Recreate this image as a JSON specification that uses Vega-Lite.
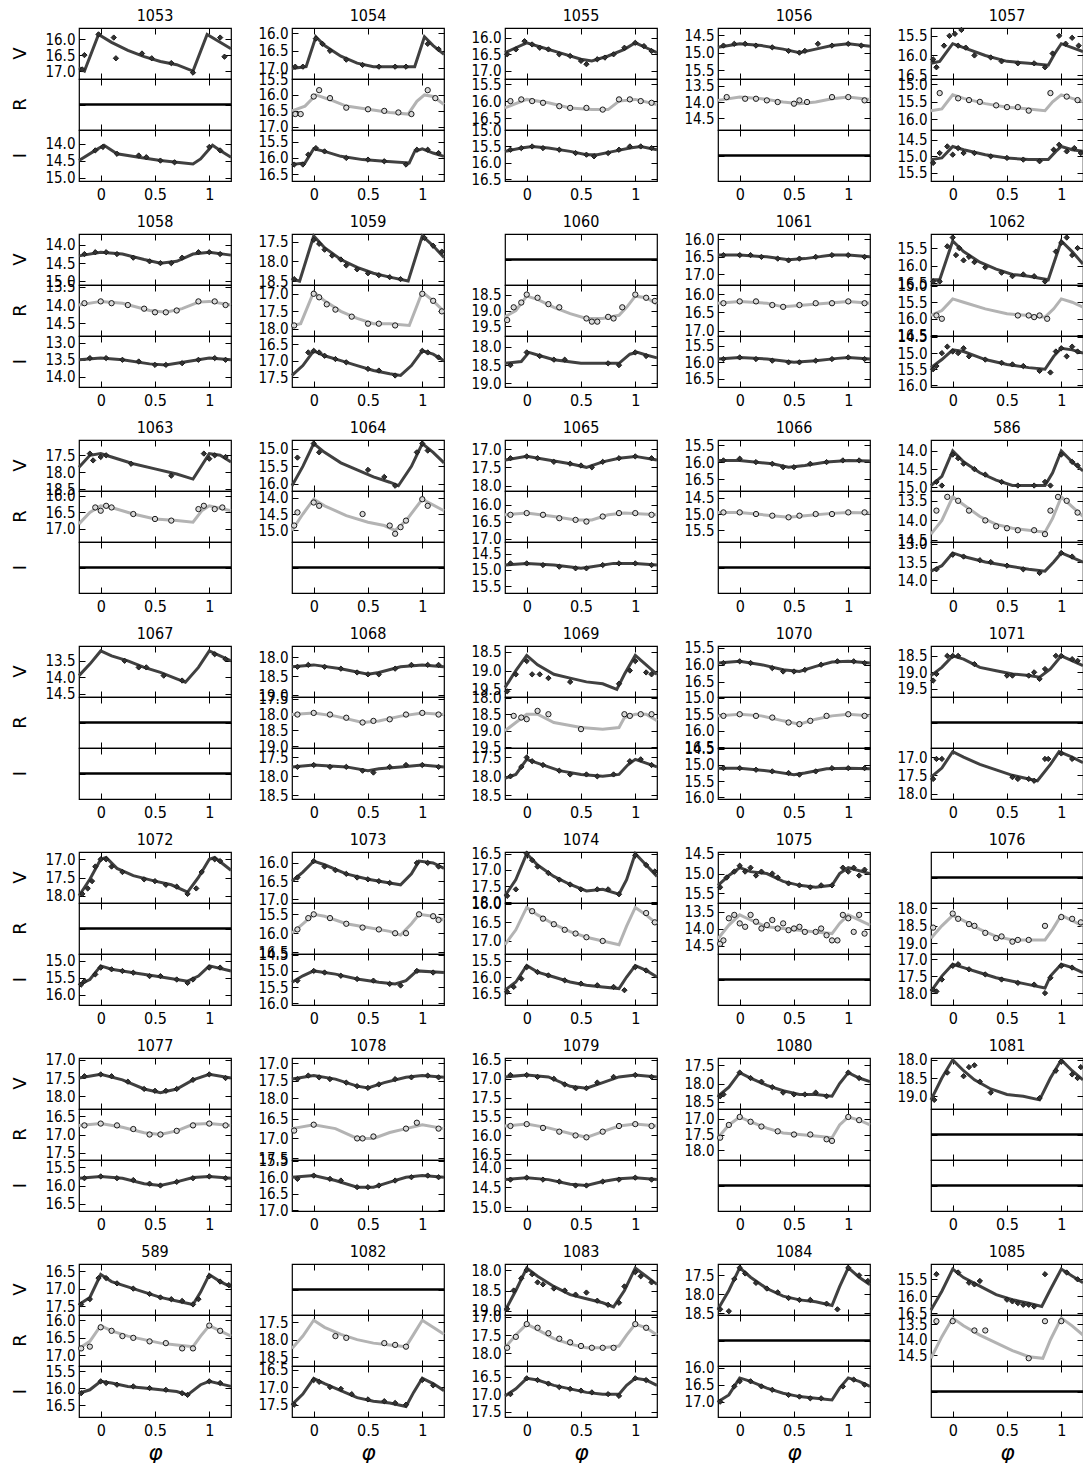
{
"$schema":"https://vega.github.io/schema/vega-lite/v6.json",
"padding":{"left":12,"top":8,"right":0,"bottom":0},
"spacing":12,
"config":{
"font":"DejaVu Sans Condensed",
"view":{"stroke":"#000","strokeWidth":1.2},
"axis":{"labelFont":"DejaVu Sans Condensed","labelFontSize":15,"labelColor":"#000","ticks":false,"domain":false,"grid":true,"gridColor":"#000","gridOpacity":1,"gridWidth":1,"labelOverlap":false},
"axisX":{"gridDash":[6,39,6,0],"labelPadding":5,"labelFontSize":16,"titleFont":"DejaVu Sans","titleFontSize":22,"titleFontStyle":"italic","titleFontWeight":"normal","titlePadding":4,"titleColor":"#000"},
"axisY":{"tickCount":3,"tickMinStep":0.5,"format":".1f","gridDash":[6,140,6,0],"labelPadding":4},
"headerColumn":{"labelFont":"DejaVu Sans Condensed","labelFontSize":16,"labelPadding":4,"labelColor":"#000"},
"headerRow":{"labelFont":"DejaVu Sans","labelFontSize":18,"labelAngle":-90,"labelPadding":40,"labelColor":"#000"}
},
"data":{"values":[
{"s":1053,"x":-0.2,"V":16.9},{"s":1053,"x":-0.15,"V":17.0},{"s":1053,"x":-0.02,"V":15.85},{"s":1053,"x":0.1,"V":16.1},{"s":1053,"x":0.25,"V":16.35},{"s":1053,"x":0.4,"V":16.55},{"s":1053,"x":0.55,"V":16.7},{"s":1053,"x":0.7,"V":16.8},{"s":1053,"x":0.85,"V":17.0},{"s":1053,"x":0.98,"V":15.85},{"s":1053,"x":1.1,"V":16.1},{"s":1053,"x":1.2,"V":16.3},
{"s":1053,"t":-0.17,"V":16.95},{"s":1053,"t":-0.15,"V":16.5},{"s":1053,"t":-0.02,"V":15.85},{"s":1053,"t":0.12,"V":15.95},{"s":1053,"t":0.14,"V":16.6},{"s":1053,"t":0.38,"V":16.45},{"s":1053,"t":0.47,"V":16.6},{"s":1053,"t":0.65,"V":16.75},{"s":1053,"t":0.85,"V":17.05},{"s":1053,"t":1.1,"V":15.95},{"s":1053,"t":1.14,"V":16.55},
{"s":1053,"x":-0.2,"I":14.5},{"s":1053,"x":-0.05,"I":14.2},{"s":1053,"x":0.03,"I":14.05},{"s":1053,"x":0.15,"I":14.3},{"s":1053,"x":0.35,"I":14.4},{"s":1053,"x":0.55,"I":14.5},{"s":1053,"x":0.7,"I":14.55},{"s":1053,"x":0.85,"I":14.6},{"s":1053,"x":0.92,"I":14.45},{"s":1053,"x":1.03,"I":14.05},{"s":1053,"x":1.1,"I":14.2},{"s":1053,"x":1.2,"I":14.4},
{"s":1053,"t":-0.05,"I":14.2},{"s":1053,"t":0.02,"I":14.1},{"s":1053,"t":0.15,"I":14.3},{"s":1053,"t":0.35,"I":14.35},{"s":1053,"t":0.42,"I":14.4},{"s":1053,"t":0.55,"I":14.5},{"s":1053,"t":0.68,"I":14.55},{"s":1053,"t":1.0,"I":14.1},{"s":1053,"t":1.1,"I":14.2},
{"s":1053,"V":15.65},{"s":1053,"V":17.25},{"s":1053,"I":13.6},{"s":1053,"I":15.1},{"s":1053,"R":100},
{"s":1054,"x":-0.2,"V":17.0},{"s":1054,"x":-0.07,"V":16.95},{"s":1054,"x":0.02,"V":16.1},{"s":1054,"x":0.1,"V":16.35},{"s":1054,"x":0.25,"V":16.65},{"s":1054,"x":0.4,"V":16.85},{"s":1054,"x":0.55,"V":16.95},{"s":1054,"x":0.85,"V":16.95},{"s":1054,"x":0.93,"V":16.95},{"s":1054,"x":1.02,"V":16.1},{"s":1054,"x":1.1,"V":16.35},{"s":1054,"x":1.2,"V":16.6},
{"s":1054,"t":-0.17,"V":16.95},{"s":1054,"t":-0.1,"V":16.95},{"s":1054,"t":0.02,"V":16.15},{"s":1054,"t":0.08,"V":16.3},{"s":1054,"t":0.15,"V":16.5},{"s":1054,"t":0.3,"V":16.75},{"s":1054,"t":0.45,"V":16.9},{"s":1054,"t":0.6,"V":16.95},{"s":1054,"t":0.75,"V":16.95},{"s":1054,"t":0.85,"V":16.95},{"s":1054,"t":1.05,"V":16.3},{"s":1054,"t":1.15,"V":16.45},
{"s":1054,"x":-0.2,"R":16.5},{"s":1054,"x":-0.08,"R":16.35},{"s":1054,"x":0.02,"R":16.0},{"s":1054,"x":0.15,"R":16.15},{"s":1054,"x":0.3,"R":16.35},{"s":1054,"x":0.5,"R":16.45},{"s":1054,"x":0.7,"R":16.55},{"s":1054,"x":0.87,"R":16.6},{"s":1054,"x":0.95,"R":16.2},{"s":1054,"x":1.02,"R":16.0},{"s":1054,"x":1.1,"R":16.05},{"s":1054,"x":1.2,"R":16.3},
{"s":1054,"t":-0.17,"R":16.6},{"s":1054,"t":-0.12,"R":16.6},{"s":1054,"t":0.0,"R":16.05},{"s":1054,"t":0.05,"R":15.85},{"s":1054,"t":0.15,"R":16.1},{"s":1054,"t":0.3,"R":16.4},{"s":1054,"t":0.5,"R":16.45},{"s":1054,"t":0.65,"R":16.5},{"s":1054,"t":0.78,"R":16.55},{"s":1054,"t":0.9,"R":16.6},{"s":1054,"t":1.05,"R":15.85},{"s":1054,"t":1.12,"R":16.1},
{"s":1054,"x":-0.2,"I":16.2},{"s":1054,"x":-0.08,"I":16.15},{"s":1054,"x":0.0,"I":15.72},{"s":1054,"x":0.1,"I":15.8},{"s":1054,"x":0.25,"I":15.95},{"s":1054,"x":0.45,"I":16.05},{"s":1054,"x":0.65,"I":16.1},{"s":1054,"x":0.88,"I":16.15},{"s":1054,"x":0.93,"I":15.8},{"s":1054,"x":1.0,"I":15.72},{"s":1054,"x":1.1,"I":15.85},{"s":1054,"x":1.2,"I":15.95},
{"s":1054,"t":-0.18,"I":16.2},{"s":1054,"t":-0.1,"I":16.2},{"s":1054,"t":-0.05,"I":15.9},{"s":1054,"t":0.02,"I":15.7},{"s":1054,"t":0.1,"I":15.8},{"s":1054,"t":0.3,"I":16.0},{"s":1054,"t":0.5,"I":16.05},{"s":1054,"t":0.65,"I":16.1},{"s":1054,"t":0.85,"I":16.2},{"s":1054,"t":0.95,"I":15.75},{"s":1054,"t":1.05,"I":15.75},{"s":1054,"t":1.15,"I":15.85},
{"s":1054,"V":15.85},{"s":1054,"V":17.3},{"s":1054,"R":15.5},{"s":1054,"R":17.1},{"s":1054,"I":15.15},{"s":1054,"I":16.7},
{"s":1055,"x":-0.2,"V":16.45},{"s":1055,"x":-0.1,"V":16.3},{"s":1055,"x":0.0,"V":16.15},{"s":1055,"x":0.15,"V":16.3},{"s":1055,"x":0.3,"V":16.45},{"s":1055,"x":0.5,"V":16.65},{"s":1055,"x":0.6,"V":16.7},{"s":1055,"x":0.75,"V":16.55},{"s":1055,"x":0.9,"V":16.35},{"s":1055,"x":1.0,"V":16.15},{"s":1055,"x":1.1,"V":16.3},{"s":1055,"x":1.2,"V":16.45},
{"s":1055,"t":-0.18,"V":16.5},{"s":1055,"t":-0.1,"V":16.35},{"s":1055,"t":-0.02,"V":16.1},{"s":1055,"t":0.05,"V":16.2},{"s":1055,"t":0.12,"V":16.3},{"s":1055,"t":0.2,"V":16.35},{"s":1055,"t":0.3,"V":16.5},{"s":1055,"t":0.4,"V":16.55},{"s":1055,"t":0.5,"V":16.7},{"s":1055,"t":0.55,"V":16.8},{"s":1055,"t":0.65,"V":16.65},{"s":1055,"t":0.72,"V":16.6},{"s":1055,"t":0.8,"V":16.5},{"s":1055,"t":0.9,"V":16.3},{"s":1055,"t":1.0,"V":16.15},{"s":1055,"t":1.08,"V":16.25},{"s":1055,"t":1.15,"V":16.4},
{"s":1055,"x":-0.2,"R":16.2},{"s":1055,"x":0.0,"R":15.95},{"s":1055,"x":0.2,"R":16.05},{"s":1055,"x":0.4,"R":16.2},{"s":1055,"x":0.6,"R":16.25},{"s":1055,"x":0.75,"R":16.25},{"s":1055,"x":0.85,"R":16.0},{"s":1055,"x":1.0,"R":15.95},{"s":1055,"x":1.2,"R":16.1},
{"s":1055,"t":-0.15,"R":16.0},{"s":1055,"t":-0.05,"R":15.95},{"s":1055,"t":0.05,"R":16.0},{"s":1055,"t":0.15,"R":16.05},{"s":1055,"t":0.3,"R":16.15},{"s":1055,"t":0.4,"R":16.2},{"s":1055,"t":0.55,"R":16.2},{"s":1055,"t":0.7,"R":16.25},{"s":1055,"t":0.85,"R":15.95},{"s":1055,"t":0.95,"R":15.95},{"s":1055,"t":1.05,"R":16.0},{"s":1055,"t":1.15,"R":16.05},
{"s":1055,"x":-0.2,"I":15.65},{"s":1055,"x":-0.05,"I":15.55},{"s":1055,"x":0.05,"I":15.5},{"s":1055,"x":0.2,"I":15.55},{"s":1055,"x":0.4,"I":15.65},{"s":1055,"x":0.55,"I":15.75},{"s":1055,"x":0.65,"I":15.75},{"s":1055,"x":0.8,"I":15.65},{"s":1055,"x":0.95,"I":15.55},{"s":1055,"x":1.05,"I":15.5},{"s":1055,"x":1.2,"I":15.6},
{"s":1055,"t":-0.15,"I":15.6},{"s":1055,"t":-0.05,"I":15.55},{"s":1055,"t":0.05,"I":15.5},{"s":1055,"t":0.15,"I":15.55},{"s":1055,"t":0.3,"I":15.6},{"s":1055,"t":0.45,"I":15.7},{"s":1055,"t":0.55,"I":15.75},{"s":1055,"t":0.62,"I":15.8},{"s":1055,"t":0.75,"I":15.7},{"s":1055,"t":0.85,"I":15.6},{"s":1055,"t":0.95,"I":15.5},{"s":1055,"t":1.05,"I":15.5},{"s":1055,"t":1.15,"I":15.55},
{"s":1055,"V":15.7},{"s":1055,"V":17.25},{"s":1055,"R":15.35},{"s":1055,"R":16.85},{"s":1055,"I":15.0},{"s":1055,"I":16.55},
{"s":1056,"x":-0.2,"V":14.85},{"s":1056,"x":0.0,"V":14.75},{"s":1056,"x":0.2,"V":14.8},{"s":1056,"x":0.4,"V":14.9},{"s":1056,"x":0.55,"V":15.0},{"s":1056,"x":0.7,"V":14.9},{"s":1056,"x":0.85,"V":14.8},{"s":1056,"x":1.0,"V":14.75},{"s":1056,"x":1.2,"V":14.82},
{"s":1056,"t":-0.15,"V":14.8},{"s":1056,"t":-0.05,"V":14.75},{"s":1056,"t":0.05,"V":14.75},{"s":1056,"t":0.15,"V":14.8},{"s":1056,"t":0.3,"V":14.85},{"s":1056,"t":0.45,"V":14.95},{"s":1056,"t":0.55,"V":15.0},{"s":1056,"t":0.6,"V":14.95},{"s":1056,"t":0.72,"V":14.75},{"s":1056,"t":0.85,"V":14.8},{"s":1056,"t":1.0,"V":14.75},{"s":1056,"t":1.12,"V":14.8},
{"s":1056,"x":-0.2,"R":13.95},{"s":1056,"x":0.0,"R":13.85},{"s":1056,"x":0.2,"R":13.9},{"s":1056,"x":0.4,"R":14.0},{"s":1056,"x":0.55,"R":14.05},{"s":1056,"x":0.7,"R":14.0},{"s":1056,"x":0.85,"R":13.9},{"s":1056,"x":1.0,"R":13.85},{"s":1056,"x":1.2,"R":13.92},
{"s":1056,"t":-0.12,"R":13.85},{"s":1056,"t":0.05,"R":13.9},{"s":1056,"t":0.15,"R":13.9},{"s":1056,"t":0.25,"R":13.95},{"s":1056,"t":0.35,"R":14.0},{"s":1056,"t":0.5,"R":14.05},{"s":1056,"t":0.55,"R":13.95},{"s":1056,"t":0.62,"R":14.0},{"s":1056,"t":0.85,"R":13.85},{"s":1056,"t":1.0,"R":13.85},{"s":1056,"t":1.15,"R":13.95},
{"s":1056,"V":14.3},{"s":1056,"V":15.75},{"s":1056,"R":13.3},{"s":1056,"R":14.85},{"s":1056,"I":100},
{"s":1057,"x":-0.2,"V":16.2},{"s":1057,"x":-0.12,"V":16.15},{"s":1057,"x":0.0,"V":15.7},{"s":1057,"x":0.1,"V":15.8},{"s":1057,"x":0.3,"V":16.0},{"s":1057,"x":0.5,"V":16.15},{"s":1057,"x":0.7,"V":16.2},{"s":1057,"x":0.88,"V":16.25},{"s":1057,"x":0.94,"V":15.95},{"s":1057,"x":1.0,"V":15.7},{"s":1057,"x":1.1,"V":15.8},{"s":1057,"x":1.2,"V":15.9},
{"s":1057,"t":-0.18,"V":16.1},{"s":1057,"t":-0.15,"V":16.3},{"s":1057,"t":-0.08,"V":15.75},{"s":1057,"t":-0.03,"V":15.5},{"s":1057,"t":0.02,"V":15.45},{"s":1057,"t":0.05,"V":15.75},{"s":1057,"t":0.08,"V":15.35},{"s":1057,"t":0.12,"V":15.8},{"s":1057,"t":0.2,"V":16.0},{"s":1057,"t":0.35,"V":16.05},{"s":1057,"t":0.45,"V":16.15},{"s":1057,"t":0.6,"V":16.2},{"s":1057,"t":0.75,"V":16.2},{"s":1057,"t":0.85,"V":16.3},{"s":1057,"t":0.92,"V":15.95},{"s":1057,"t":0.98,"V":15.5},{"s":1057,"t":1.04,"V":15.7},{"s":1057,"t":1.1,"V":15.55},{"s":1057,"t":1.16,"V":15.75},
{"s":1057,"x":-0.2,"R":15.75},{"s":1057,"x":-0.1,"R":15.7},{"s":1057,"x":0.0,"R":15.3},{"s":1057,"x":0.1,"R":15.4},{"s":1057,"x":0.3,"R":15.55},{"s":1057,"x":0.5,"R":15.65},{"s":1057,"x":0.7,"R":15.7},{"s":1057,"x":0.85,"R":15.75},{"s":1057,"x":0.92,"R":15.5},{"s":1057,"x":1.0,"R":15.3},{"s":1057,"x":1.1,"R":15.4},{"s":1057,"x":1.2,"R":15.5},
{"s":1057,"t":-0.12,"R":15.25},{"s":1057,"t":0.05,"R":15.4},{"s":1057,"t":0.15,"R":15.45},{"s":1057,"t":0.25,"R":15.5},{"s":1057,"t":0.4,"R":15.6},{"s":1057,"t":0.5,"R":15.65},{"s":1057,"t":0.6,"R":15.65},{"s":1057,"t":0.7,"R":15.75},{"s":1057,"t":0.9,"R":15.25},{"s":1057,"t":1.05,"R":15.35},{"s":1057,"t":1.15,"R":15.45},
{"s":1057,"x":-0.2,"I":15.1},{"s":1057,"x":-0.1,"I":15.05},{"s":1057,"x":0.0,"I":14.7},{"s":1057,"x":0.1,"I":14.8},{"s":1057,"x":0.3,"I":14.95},{"s":1057,"x":0.5,"I":15.05},{"s":1057,"x":0.7,"I":15.1},{"s":1057,"x":0.88,"I":15.1},{"s":1057,"x":0.95,"I":14.85},{"s":1057,"x":1.0,"I":14.7},{"s":1057,"x":1.1,"I":14.8},{"s":1057,"x":1.2,"I":14.85},
{"s":1057,"t":-0.18,"I":15.2},{"s":1057,"t":-0.12,"I":14.9},{"s":1057,"t":-0.05,"I":14.7},{"s":1057,"t":0.0,"I":14.95},{"s":1057,"t":0.05,"I":14.75},{"s":1057,"t":0.1,"I":14.9},{"s":1057,"t":0.2,"I":14.9},{"s":1057,"t":0.35,"I":15.0},{"s":1057,"t":0.5,"I":15.05},{"s":1057,"t":0.65,"I":15.1},{"s":1057,"t":0.8,"I":15.15},{"s":1057,"t":0.93,"I":14.8},{"s":1057,"t":0.98,"I":14.65},{"s":1057,"t":1.05,"I":14.85},{"s":1057,"t":1.12,"I":14.75},{"s":1057,"t":1.18,"I":14.9},
{"s":1057,"V":15.3},{"s":1057,"V":16.6},{"s":1057,"R":14.85},{"s":1057,"R":16.3},{"s":1057,"I":14.2},{"s":1057,"I":15.75},
{"s":1058,"x":-0.2,"V":14.3},{"s":1058,"x":0.0,"V":14.2},{"s":1058,"x":0.2,"V":14.25},{"s":1058,"x":0.4,"V":14.4},{"s":1058,"x":0.55,"V":14.5},{"s":1058,"x":0.7,"V":14.45},{"s":1058,"x":0.85,"V":14.25},{"s":1058,"x":1.0,"V":14.2},{"s":1058,"x":1.2,"V":14.28},
{"s":1058,"t":-0.15,"V":14.25},{"s":1058,"t":-0.05,"V":14.2},{"s":1058,"t":0.05,"V":14.2},{"s":1058,"t":0.15,"V":14.25},{"s":1058,"t":0.3,"V":14.35},{"s":1058,"t":0.45,"V":14.45},{"s":1058,"t":0.55,"V":14.5},{"s":1058,"t":0.65,"V":14.5},{"s":1058,"t":0.75,"V":14.35},{"s":1058,"t":0.9,"V":14.2},{"s":1058,"t":1.0,"V":14.2},{"s":1058,"t":1.1,"V":14.25},
{"s":1058,"x":-0.2,"R":14.0},{"s":1058,"x":0.0,"R":13.9},{"s":1058,"x":0.2,"R":13.95},{"s":1058,"x":0.45,"R":14.15},{"s":1058,"x":0.6,"R":14.2},{"s":1058,"x":0.75,"R":14.1},{"s":1058,"x":0.9,"R":13.92},{"s":1058,"x":1.0,"R":13.9},{"s":1058,"x":1.2,"R":14.0},
{"s":1058,"t":-0.15,"R":13.95},{"s":1058,"t":0.0,"R":13.9},{"s":1058,"t":0.1,"R":13.95},{"s":1058,"t":0.25,"R":14.0},{"s":1058,"t":0.4,"R":14.1},{"s":1058,"t":0.5,"R":14.2},{"s":1058,"t":0.6,"R":14.2},{"s":1058,"t":0.7,"R":14.15},{"s":1058,"t":0.9,"R":13.9},{"s":1058,"t":1.05,"R":13.9},{"s":1058,"t":1.15,"R":14.0},
{"s":1058,"x":-0.2,"I":13.5},{"s":1058,"x":0.0,"I":13.45},{"s":1058,"x":0.2,"I":13.5},{"s":1058,"x":0.45,"I":13.62},{"s":1058,"x":0.6,"I":13.65},{"s":1058,"x":0.8,"I":13.55},{"s":1058,"x":1.0,"I":13.45},{"s":1058,"x":1.2,"I":13.5},
{"s":1058,"t":-0.1,"I":13.45},{"s":1058,"t":0.05,"I":13.45},{"s":1058,"t":0.2,"I":13.5},{"s":1058,"t":0.35,"I":13.55},{"s":1058,"t":0.5,"I":13.65},{"s":1058,"t":0.6,"I":13.65},{"s":1058,"t":0.75,"I":13.6},{"s":1058,"t":0.9,"I":13.5},{"s":1058,"t":1.05,"I":13.45},{"s":1058,"t":1.15,"I":13.5},
{"s":1058,"V":13.7},{"s":1058,"V":15.1},{"s":1058,"R":13.45},{"s":1058,"R":14.85},{"s":1058,"I":12.8},{"s":1058,"I":14.3},
{"s":1059,"x":-0.2,"V":18.45},{"s":1059,"x":-0.13,"V":18.5},{"s":1059,"x":0.0,"V":17.35},{"s":1059,"x":0.1,"V":17.65},{"s":1059,"x":0.25,"V":17.95},{"s":1059,"x":0.4,"V":18.15},{"s":1059,"x":0.55,"V":18.3},{"s":1059,"x":0.7,"V":18.4},{"s":1059,"x":0.87,"V":18.5},{"s":1059,"x":1.0,"V":17.35},{"s":1059,"x":1.1,"V":17.6},{"s":1059,"x":1.2,"V":17.9},
{"s":1059,"t":-0.18,"V":18.45},{"s":1059,"t":0.0,"V":17.45},{"s":1059,"t":0.05,"V":17.55},{"s":1059,"t":0.1,"V":17.7},{"s":1059,"t":0.17,"V":17.85},{"s":1059,"t":0.25,"V":17.95},{"s":1059,"t":0.3,"V":18.1},{"s":1059,"t":0.4,"V":18.2},{"s":1059,"t":0.5,"V":18.3},{"s":1059,"t":0.6,"V":18.35},{"s":1059,"t":0.7,"V":18.4},{"s":1059,"t":0.8,"V":18.45},{"s":1059,"t":1.02,"V":17.4},{"s":1059,"t":1.1,"V":17.6},{"s":1059,"t":1.18,"V":17.75},
{"s":1059,"x":-0.2,"R":17.9},{"s":1059,"x":-0.12,"R":17.85},{"s":1059,"x":0.0,"R":16.95},{"s":1059,"x":0.1,"R":17.2},{"s":1059,"x":0.25,"R":17.5},{"s":1059,"x":0.4,"R":17.7},{"s":1059,"x":0.55,"R":17.85},{"s":1059,"x":0.7,"R":17.85},{"s":1059,"x":0.88,"R":17.9},{"s":1059,"x":1.0,"R":16.95},{"s":1059,"x":1.1,"R":17.2},{"s":1059,"x":1.2,"R":17.5},
{"s":1059,"t":-0.18,"R":17.9},{"s":1059,"t":0.0,"R":17.0},{"s":1059,"t":0.05,"R":17.1},{"s":1059,"t":0.12,"R":17.3},{"s":1059,"t":0.2,"R":17.45},{"s":1059,"t":0.35,"R":17.65},{"s":1059,"t":0.5,"R":17.85},{"s":1059,"t":0.6,"R":17.85},{"s":1059,"t":0.75,"R":17.9},{"s":1059,"t":1.0,"R":17.0},{"s":1059,"t":1.1,"R":17.2},{"s":1059,"t":1.18,"R":17.5},
{"s":1059,"x":-0.2,"I":17.45},{"s":1059,"x":-0.1,"I":17.15},{"s":1059,"x":0.0,"I":16.7},{"s":1059,"x":0.1,"I":16.85},{"s":1059,"x":0.25,"I":17.0},{"s":1059,"x":0.4,"I":17.15},{"s":1059,"x":0.55,"I":17.3},{"s":1059,"x":0.7,"I":17.4},{"s":1059,"x":0.8,"I":17.45},{"s":1059,"x":0.9,"I":17.15},{"s":1059,"x":1.0,"I":16.7},{"s":1059,"x":1.1,"I":16.8},{"s":1059,"x":1.2,"I":17.0},
{"s":1059,"t":-0.05,"I":16.75},{"s":1059,"t":0.0,"I":16.7},{"s":1059,"t":0.05,"I":16.75},{"s":1059,"t":0.1,"I":16.85},{"s":1059,"t":0.2,"I":16.95},{"s":1059,"t":0.3,"I":17.05},{"s":1059,"t":0.5,"I":17.25},{"s":1059,"t":0.6,"I":17.3},{"s":1059,"t":0.75,"I":17.45},{"s":1059,"t":1.0,"I":16.7},{"s":1059,"t":1.05,"I":16.75},{"s":1059,"t":1.15,"I":16.9},
{"s":1059,"V":17.3},{"s":1059,"V":18.6},{"s":1059,"R":16.75},{"s":1059,"R":18.2},{"s":1059,"I":16.25},{"s":1059,"I":17.8},
{"s":1060,"V":100},
{"s":1060,"x":-0.2,"R":19.2},{"s":1060,"x":-0.1,"R":19.0},{"s":1060,"x":0.0,"R":18.55},{"s":1060,"x":0.1,"R":18.65},{"s":1060,"x":0.25,"R":18.9},{"s":1060,"x":0.4,"R":19.1},{"s":1060,"x":0.55,"R":19.25},{"s":1060,"x":0.7,"R":19.25},{"s":1060,"x":0.85,"R":19.15},{"s":1060,"x":0.92,"R":18.9},{"s":1060,"x":1.0,"R":18.55},{"s":1060,"x":1.1,"R":18.6},{"s":1060,"x":1.2,"R":18.8},
{"s":1060,"t":-0.18,"R":19.3},{"s":1060,"t":-0.12,"R":18.9},{"s":1060,"t":-0.05,"R":18.75},{"s":1060,"t":0.0,"R":18.5},{"s":1060,"t":0.1,"R":18.6},{"s":1060,"t":0.2,"R":18.8},{"s":1060,"t":0.3,"R":18.9},{"s":1060,"t":0.55,"R":19.25},{"s":1060,"t":0.6,"R":19.35},{"s":1060,"t":0.65,"R":19.35},{"s":1060,"t":0.75,"R":19.2},{"s":1060,"t":0.8,"R":19.25},{"s":1060,"t":0.88,"R":18.9},{"s":1060,"t":1.0,"R":18.5},{"s":1060,"t":1.1,"R":18.6},{"s":1060,"t":1.18,"R":18.7},
{"s":1060,"x":-0.2,"I":18.45},{"s":1060,"x":-0.05,"I":18.4},{"s":1060,"x":0.02,"I":18.15},{"s":1060,"x":0.1,"I":18.22},{"s":1060,"x":0.25,"I":18.35},{"s":1060,"x":0.5,"I":18.45},{"s":1060,"x":0.85,"I":18.45},{"s":1060,"x":0.95,"I":18.2},{"s":1060,"x":1.02,"I":18.15},{"s":1060,"x":1.1,"I":18.22},{"s":1060,"x":1.2,"I":18.3},
{"s":1060,"t":-0.15,"I":18.5},{"s":1060,"t":0.0,"I":18.15},{"s":1060,"t":0.12,"I":18.25},{"s":1060,"t":0.25,"I":18.35},{"s":1060,"t":0.35,"I":18.35},{"s":1060,"t":0.75,"I":18.45},{"s":1060,"t":0.85,"I":18.5},{"s":1060,"t":1.0,"I":18.15},{"s":1060,"t":1.1,"I":18.25},
{"s":1060,"R":18.2},{"s":1060,"R":19.8},{"s":1060,"I":17.7},{"s":1060,"I":19.1},
{"s":1061,"x":-0.2,"V":16.45},{"s":1061,"x":0.0,"V":16.45},{"s":1061,"x":0.25,"V":16.5},{"s":1061,"x":0.45,"V":16.58},{"s":1061,"x":0.6,"V":16.55},{"s":1061,"x":0.85,"V":16.45},{"s":1061,"x":1.0,"V":16.45},{"s":1061,"x":1.2,"V":16.5},
{"s":1061,"t":-0.15,"V":16.45},{"s":1061,"t":0.0,"V":16.45},{"s":1061,"t":0.1,"V":16.45},{"s":1061,"t":0.2,"V":16.5},{"s":1061,"t":0.35,"V":16.55},{"s":1061,"t":0.45,"V":16.6},{"s":1061,"t":0.55,"V":16.55},{"s":1061,"t":0.7,"V":16.5},{"s":1061,"t":0.85,"V":16.45},{"s":1061,"t":1.0,"V":16.45},{"s":1061,"t":1.15,"V":16.5},
{"s":1061,"x":-0.2,"R":16.25},{"s":1061,"x":0.0,"R":16.2},{"s":1061,"x":0.25,"R":16.25},{"s":1061,"x":0.4,"R":16.35},{"s":1061,"x":0.6,"R":16.3},{"s":1061,"x":0.8,"R":16.25},{"s":1061,"x":1.0,"R":16.2},{"s":1061,"x":1.2,"R":16.25},
{"s":1061,"t":-0.15,"R":16.25},{"s":1061,"t":0.0,"R":16.2},{"s":1061,"t":0.15,"R":16.2},{"s":1061,"t":0.3,"R":16.3},{"s":1061,"t":0.4,"R":16.35},{"s":1061,"t":0.55,"R":16.3},{"s":1061,"t":0.7,"R":16.25},{"s":1061,"t":0.85,"R":16.25},{"s":1061,"t":1.0,"R":16.2},{"s":1061,"t":1.15,"R":16.25},
{"s":1061,"x":-0.2,"I":15.9},{"s":1061,"x":0.0,"I":15.85},{"s":1061,"x":0.25,"I":15.9},{"s":1061,"x":0.5,"I":16.0},{"s":1061,"x":0.7,"I":15.95},{"s":1061,"x":0.9,"I":15.88},{"s":1061,"x":1.0,"I":15.85},{"s":1061,"x":1.2,"I":15.9},
{"s":1061,"t":-0.15,"I":15.9},{"s":1061,"t":0.0,"I":15.85},{"s":1061,"t":0.15,"I":15.9},{"s":1061,"t":0.3,"I":15.95},{"s":1061,"t":0.45,"I":16.0},{"s":1061,"t":0.55,"I":16.0},{"s":1061,"t":0.7,"I":15.95},{"s":1061,"t":0.85,"I":15.9},{"s":1061,"t":1.0,"I":15.85},{"s":1061,"t":1.15,"I":15.9},
{"s":1061,"V":15.85},{"s":1061,"V":17.3},{"s":1061,"R":15.75},{"s":1061,"R":17.15},{"s":1061,"I":15.2},{"s":1061,"I":16.75},
{"s":1062,"x":-0.2,"V":16.4},{"s":1062,"x":-0.12,"V":16.4},{"s":1062,"x":0.0,"V":15.3},{"s":1062,"x":0.1,"V":15.6},{"s":1062,"x":0.25,"V":15.9},{"s":1062,"x":0.4,"V":16.1},{"s":1062,"x":0.55,"V":16.25},{"s":1062,"x":0.7,"V":16.3},{"s":1062,"x":0.88,"V":16.4},{"s":1062,"x":1.0,"V":15.3},{"s":1062,"x":1.1,"V":15.6},{"s":1062,"x":1.2,"V":15.95},
{"s":1062,"t":-0.18,"V":16.45},{"s":1062,"t":-0.12,"V":16.45},{"s":1062,"t":-0.05,"V":15.45},{"s":1062,"t":0.0,"V":15.2},{"s":1062,"t":0.03,"V":15.7},{"s":1062,"t":0.06,"V":15.5},{"s":1062,"t":0.1,"V":15.85},{"s":1062,"t":0.15,"V":15.75},{"s":1062,"t":0.2,"V":15.9},{"s":1062,"t":0.3,"V":16.05},{"s":1062,"t":0.45,"V":16.2},{"s":1062,"t":0.55,"V":16.3},{"s":1062,"t":0.65,"V":16.25},{"s":1062,"t":0.75,"V":16.3},{"s":1062,"t":0.85,"V":16.45},{"s":1062,"t":0.95,"V":15.6},{"s":1062,"t":1.0,"V":15.35},{"s":1062,"t":1.05,"V":15.2},{"s":1062,"t":1.1,"V":15.7},{"s":1062,"t":1.15,"V":15.5},
{"s":1062,"x":-0.2,"R":15.9},{"s":1062,"x":-0.1,"R":15.75},{"s":1062,"x":0.0,"R":15.4},{"s":1062,"x":0.1,"R":15.5},{"s":1062,"x":0.3,"R":15.7},{"s":1062,"x":0.5,"R":15.85},{"s":1062,"x":0.7,"R":15.9},{"s":1062,"x":0.85,"R":15.95},{"s":1062,"x":0.93,"R":15.7},{"s":1062,"x":1.0,"R":15.4},{"s":1062,"x":1.1,"R":15.5},{"s":1062,"x":1.2,"R":15.65},
{"s":1062,"t":-0.15,"R":15.9},{"s":1062,"t":-0.1,"R":16.0},{"s":1062,"t":0.6,"R":15.9},{"s":1062,"t":0.7,"R":15.9},{"s":1062,"t":0.75,"R":15.95},{"s":1062,"t":0.8,"R":15.9},{"s":1062,"t":0.87,"R":16.0},
{"s":1062,"x":-0.2,"I":15.45},{"s":1062,"x":-0.1,"I":15.2},{"s":1062,"x":0.0,"I":14.9},{"s":1062,"x":0.1,"I":14.95},{"s":1062,"x":0.3,"I":15.2},{"s":1062,"x":0.5,"I":15.35},{"s":1062,"x":0.7,"I":15.45},{"s":1062,"x":0.85,"I":15.5},{"s":1062,"x":0.93,"I":15.1},{"s":1062,"x":1.0,"I":14.85},{"s":1062,"x":1.1,"I":14.9},{"s":1062,"x":1.2,"I":15.0},
{"s":1062,"t":-0.18,"I":15.5},{"s":1062,"t":-0.15,"I":15.4},{"s":1062,"t":-0.1,"I":15.0},{"s":1062,"t":-0.05,"I":14.8},{"s":1062,"t":0.0,"I":14.95},{"s":1062,"t":0.05,"I":15.0},{"s":1062,"t":0.1,"I":14.85},{"s":1062,"t":0.15,"I":15.1},{"s":1062,"t":0.3,"I":15.2},{"s":1062,"t":0.45,"I":15.3},{"s":1062,"t":0.55,"I":15.35},{"s":1062,"t":0.65,"I":15.4},{"s":1062,"t":0.8,"I":15.55},{"s":1062,"t":0.9,"I":15.6},{"s":1062,"t":0.95,"I":14.95},{"s":1062,"t":1.0,"I":14.85},{"s":1062,"t":1.05,"I":15.1},{"s":1062,"t":1.1,"I":14.8},{"s":1062,"t":1.15,"I":14.95},
{"s":1062,"V":15.1},{"s":1062,"V":16.55},{"s":1062,"R":14.98},{"s":1062,"R":16.52},{"s":1062,"I":14.47},{"s":1062,"I":16.05},
{"s":1063,"x":-0.2,"V":17.85},{"s":1063,"x":-0.1,"V":17.5},{"s":1063,"x":0.0,"V":17.45},{"s":1063,"x":0.1,"V":17.55},{"s":1063,"x":0.3,"V":17.75},{"s":1063,"x":0.5,"V":17.9},{"s":1063,"x":0.7,"V":18.05},{"s":1063,"x":0.85,"V":18.2},{"s":1063,"x":0.92,"V":17.85},{"s":1063,"x":1.0,"V":17.45},{"s":1063,"x":1.1,"V":17.5},{"s":1063,"x":1.2,"V":17.7},
{"s":1063,"t":-0.1,"V":17.45},{"s":1063,"t":-0.07,"V":17.65},{"s":1063,"t":0.0,"V":17.55},{"s":1063,"t":0.05,"V":17.5},{"s":1063,"t":0.28,"V":17.75},{"s":1063,"t":0.65,"V":18.1},{"s":1063,"t":0.95,"V":17.45},{"s":1063,"t":1.0,"V":17.6},{"s":1063,"t":1.05,"V":17.5},{"s":1063,"t":1.15,"V":17.55},
{"s":1063,"x":-0.2,"R":16.85},{"s":1063,"x":-0.1,"R":16.5},{"s":1063,"x":0.0,"R":16.3},{"s":1063,"x":0.1,"R":16.35},{"s":1063,"x":0.3,"R":16.55},{"s":1063,"x":0.5,"R":16.7},{"s":1063,"x":0.7,"R":16.75},{"s":1063,"x":0.85,"R":16.8},{"s":1063,"x":0.93,"R":16.45},{"s":1063,"x":1.0,"R":16.3},{"s":1063,"x":1.2,"R":16.45},
{"s":1063,"t":-0.05,"R":16.35},{"s":1063,"t":0.0,"R":16.45},{"s":1063,"t":0.05,"R":16.3},{"s":1063,"t":0.1,"R":16.35},{"s":1063,"t":0.3,"R":16.55},{"s":1063,"t":0.5,"R":16.7},{"s":1063,"t":0.65,"R":16.75},{"s":1063,"t":0.9,"R":16.4},{"s":1063,"t":0.95,"R":16.3},{"s":1063,"t":1.05,"R":16.4},{"s":1063,"t":1.12,"R":16.35},
{"s":1063,"V":17.05},{"s":1063,"V":18.55},{"s":1063,"R":15.85},{"s":1063,"R":17.4},{"s":1063,"I":100},
{"s":1064,"x":-0.2,"V":16.05},{"s":1064,"x":-0.1,"V":15.5},{"s":1064,"x":0.0,"V":14.85},{"s":1064,"x":0.1,"V":15.1},{"s":1064,"x":0.25,"V":15.4},{"s":1064,"x":0.4,"V":15.6},{"s":1064,"x":0.55,"V":15.8},{"s":1064,"x":0.7,"V":15.95},{"s":1064,"x":0.78,"V":16.05},{"s":1064,"x":0.9,"V":15.5},{"s":1064,"x":1.0,"V":14.85},{"s":1064,"x":1.1,"V":15.1},{"s":1064,"x":1.2,"V":15.4},
{"s":1064,"t":-0.15,"V":15.25},{"s":1064,"t":0.0,"V":14.85},{"s":1064,"t":0.05,"V":15.1},{"s":1064,"t":0.5,"V":15.6},{"s":1064,"t":0.65,"V":15.8},{"s":1064,"t":0.75,"V":16.05},{"s":1064,"t":0.95,"V":15.1},{"s":1064,"t":1.0,"V":14.85},{"s":1064,"t":1.05,"V":15.05},
{"s":1064,"x":-0.2,"R":15.0},{"s":1064,"x":-0.1,"R":14.5},{"s":1064,"x":0.0,"R":14.05},{"s":1064,"x":0.1,"R":14.25},{"s":1064,"x":0.3,"R":14.55},{"s":1064,"x":0.5,"R":14.75},{"s":1064,"x":0.65,"R":14.85},{"s":1064,"x":0.75,"R":15.0},{"s":1064,"x":0.85,"R":14.7},{"s":1064,"x":1.0,"R":14.05},{"s":1064,"x":1.2,"R":14.4},
{"s":1064,"t":-0.18,"R":14.85},{"s":1064,"t":-0.15,"R":14.45},{"s":1064,"t":0.0,"R":14.15},{"s":1064,"t":0.05,"R":14.25},{"s":1064,"t":0.45,"R":14.5},{"s":1064,"t":0.7,"R":14.85},{"s":1064,"t":0.75,"R":15.1},{"s":1064,"t":0.8,"R":14.9},{"s":1064,"t":0.85,"R":14.7},{"s":1064,"t":1.0,"R":14.05},{"s":1064,"t":1.05,"R":14.25},
{"s":1064,"V":14.75},{"s":1064,"V":16.2},{"s":1064,"R":13.8},{"s":1064,"R":15.35},{"s":1064,"I":100},
{"s":1065,"x":-0.2,"V":17.3},{"s":1065,"x":0.0,"V":17.2},{"s":1065,"x":0.2,"V":17.3},{"s":1065,"x":0.4,"V":17.4},{"s":1065,"x":0.55,"V":17.5},{"s":1065,"x":0.7,"V":17.35},{"s":1065,"x":0.85,"V":17.25},{"s":1065,"x":1.0,"V":17.2},{"s":1065,"x":1.2,"V":17.3},
{"s":1065,"t":-0.15,"V":17.25},{"s":1065,"t":0.0,"V":17.2},{"s":1065,"t":0.1,"V":17.25},{"s":1065,"t":0.25,"V":17.35},{"s":1065,"t":0.4,"V":17.4},{"s":1065,"t":0.5,"V":17.45},{"s":1065,"t":0.6,"V":17.5},{"s":1065,"t":0.7,"V":17.35},{"s":1065,"t":0.85,"V":17.25},{"s":1065,"t":1.0,"V":17.2},{"s":1065,"t":1.15,"V":17.25},
{"s":1065,"x":-0.2,"R":16.3},{"s":1065,"x":0.0,"R":16.25},{"s":1065,"x":0.25,"R":16.35},{"s":1065,"x":0.45,"R":16.45},{"s":1065,"x":0.6,"R":16.45},{"s":1065,"x":0.75,"R":16.3},{"s":1065,"x":0.9,"R":16.25},{"s":1065,"x":1.2,"R":16.3},
{"s":1065,"t":-0.15,"R":16.3},{"s":1065,"t":0.0,"R":16.25},{"s":1065,"t":0.15,"R":16.3},{"s":1065,"t":0.3,"R":16.4},{"s":1065,"t":0.45,"R":16.45},{"s":1065,"t":0.55,"R":16.5},{"s":1065,"t":0.7,"R":16.35},{"s":1065,"t":0.85,"R":16.25},{"s":1065,"t":1.0,"R":16.25},{"s":1065,"t":1.15,"R":16.3},
{"s":1065,"x":-0.2,"I":14.85},{"s":1065,"x":0.0,"I":14.8},{"s":1065,"x":0.25,"I":14.85},{"s":1065,"x":0.5,"I":14.95},{"s":1065,"x":0.6,"I":14.9},{"s":1065,"x":0.8,"I":14.8},{"s":1065,"x":1.0,"I":14.8},{"s":1065,"x":1.2,"I":14.85},
{"s":1065,"t":-0.15,"I":14.8},{"s":1065,"t":0.0,"I":14.8},{"s":1065,"t":0.15,"I":14.85},{"s":1065,"t":0.3,"I":14.9},{"s":1065,"t":0.45,"I":14.95},{"s":1065,"t":0.55,"I":14.95},{"s":1065,"t":0.7,"I":14.85},{"s":1065,"t":0.85,"I":14.8},{"s":1065,"t":1.0,"I":14.8},{"s":1065,"t":1.15,"I":14.85},
{"s":1065,"V":16.75},{"s":1065,"V":18.15},{"s":1065,"R":15.6},{"s":1065,"R":17.1},{"s":1065,"I":14.15},{"s":1065,"I":15.7},
{"s":1066,"x":-0.2,"V":15.95},{"s":1066,"x":0.0,"V":15.95},{"s":1066,"x":0.3,"V":16.05},{"s":1066,"x":0.45,"V":16.15},{"s":1066,"x":0.6,"V":16.1},{"s":1066,"x":0.8,"V":16.0},{"s":1066,"x":1.0,"V":15.95},{"s":1066,"x":1.2,"V":15.97},
{"s":1066,"t":-0.15,"V":15.95},{"s":1066,"t":0.0,"V":15.9},{"s":1066,"t":0.15,"V":16.0},{"s":1066,"t":0.3,"V":16.05},{"s":1066,"t":0.4,"V":16.15},{"s":1066,"t":0.5,"V":16.15},{"s":1066,"t":0.65,"V":16.05},{"s":1066,"t":0.8,"V":16.0},{"s":1066,"t":0.95,"V":15.95},{"s":1066,"t":1.1,"V":15.95},
{"s":1066,"x":-0.2,"R":14.95},{"s":1066,"x":0.0,"R":14.95},{"s":1066,"x":0.3,"R":15.05},{"s":1066,"x":0.45,"R":15.1},{"s":1066,"x":0.6,"R":15.05},{"s":1066,"x":0.85,"R":14.98},{"s":1066,"x":1.0,"R":14.95},{"s":1066,"x":1.2,"R":14.97},
{"s":1066,"t":-0.15,"R":14.95},{"s":1066,"t":0.0,"R":14.95},{"s":1066,"t":0.15,"R":15.0},{"s":1066,"t":0.3,"R":15.05},{"s":1066,"t":0.45,"R":15.1},{"s":1066,"t":0.55,"R":15.05},{"s":1066,"t":0.7,"R":15.0},{"s":1066,"t":0.85,"R":15.0},{"s":1066,"t":1.0,"R":14.95},{"s":1066,"t":1.15,"R":14.95},
{"s":1066,"V":15.35},{"s":1066,"V":16.85},{"s":1066,"R":14.3},{"s":1066,"R":15.85},{"s":1066,"I":100},
{"s":586,"x":-0.2,"V":14.95},{"s":586,"x":-0.1,"V":14.7},{"s":586,"x":0.0,"V":14.0},{"s":586,"x":0.1,"V":14.3},{"s":586,"x":0.25,"V":14.6},{"s":586,"x":0.4,"V":14.8},{"s":586,"x":0.55,"V":14.95},{"s":586,"x":0.7,"V":14.95},{"s":586,"x":0.85,"V":14.95},{"s":586,"x":0.92,"V":14.6},{"s":586,"x":1.0,"V":14.0},{"s":586,"x":1.1,"V":14.3},{"s":586,"x":1.2,"V":14.55},
{"s":586,"t":-0.15,"V":14.85},{"s":586,"t":-0.1,"V":14.95},{"s":586,"t":0.0,"V":14.1},{"s":586,"t":0.05,"V":14.2},{"s":586,"t":0.1,"V":14.35},{"s":586,"t":0.2,"V":14.5},{"s":586,"t":0.3,"V":14.65},{"s":586,"t":0.45,"V":14.85},{"s":586,"t":0.6,"V":14.95},{"s":586,"t":0.75,"V":14.95},{"s":586,"t":0.85,"V":14.85},{"s":586,"t":0.9,"V":14.95},{"s":586,"t":1.0,"V":14.1},{"s":586,"t":1.1,"V":14.3},{"s":586,"t":1.15,"V":14.4},
{"s":586,"x":-0.2,"R":14.35},{"s":586,"x":-0.1,"R":14.0},{"s":586,"x":0.0,"R":13.4},{"s":586,"x":0.1,"R":13.6},{"s":586,"x":0.25,"R":13.9},{"s":586,"x":0.4,"R":14.1},{"s":586,"x":0.55,"R":14.2},{"s":586,"x":0.7,"R":14.25},{"s":586,"x":0.85,"R":14.3},{"s":586,"x":0.92,"R":13.95},{"s":586,"x":1.0,"R":13.4},{"s":586,"x":1.2,"R":13.9},
{"s":586,"t":-0.15,"R":13.75},{"s":586,"t":-0.05,"R":13.4},{"s":586,"t":0.05,"R":13.5},{"s":586,"t":0.15,"R":13.75},{"s":586,"t":0.3,"R":14.0},{"s":586,"t":0.4,"R":14.15},{"s":586,"t":0.5,"R":14.2},{"s":586,"t":0.6,"R":14.25},{"s":586,"t":0.75,"R":14.25},{"s":586,"t":0.85,"R":14.35},{"s":586,"t":0.9,"R":13.75},{"s":586,"t":0.97,"R":13.4},{"s":586,"t":1.05,"R":13.5},{"s":586,"t":1.15,"R":13.8},
{"s":586,"x":-0.2,"I":13.75},{"s":586,"x":-0.1,"I":13.6},{"s":586,"x":0.0,"I":13.25},{"s":586,"x":0.1,"I":13.35},{"s":586,"x":0.3,"I":13.5},{"s":586,"x":0.5,"I":13.6},{"s":586,"x":0.7,"I":13.7},{"s":586,"x":0.85,"I":13.75},{"s":586,"x":0.93,"I":13.5},{"s":586,"x":1.0,"I":13.25},{"s":586,"x":1.2,"I":13.5},
{"s":586,"t":-0.15,"I":13.7},{"s":586,"t":0.0,"I":13.3},{"s":586,"t":0.1,"I":13.35},{"s":586,"t":0.25,"I":13.45},{"s":586,"t":0.35,"I":13.5},{"s":586,"t":0.5,"I":13.6},{"s":586,"t":0.65,"I":13.7},{"s":586,"t":0.8,"I":13.8},{"s":586,"t":1.0,"I":13.25},{"s":586,"t":1.1,"I":13.35},
{"s":586,"V":13.7},{"s":586,"V":15.1},{"s":586,"R":13.25},{"s":586,"R":14.55},{"s":586,"I":12.95},{"s":586,"I":14.35},
{"s":1067,"x":-0.2,"V":13.95},{"s":1067,"x":-0.1,"V":13.6},{"s":1067,"x":0.0,"V":13.2},{"s":1067,"x":0.1,"V":13.35},{"s":1067,"x":0.25,"V":13.5},{"s":1067,"x":0.4,"V":13.7},{"s":1067,"x":0.55,"V":13.85},{"s":1067,"x":0.7,"V":14.05},{"s":1067,"x":0.78,"V":14.15},{"s":1067,"x":0.9,"V":13.7},{"s":1067,"x":1.0,"V":13.2},{"s":1067,"x":1.1,"V":13.35},{"s":1067,"x":1.2,"V":13.5},
{"s":1067,"t":0.22,"V":13.5},{"s":1067,"t":0.35,"V":13.7},{"s":1067,"t":0.42,"V":13.7},{"s":1067,"t":0.58,"V":13.95},{"s":1067,"t":0.75,"V":14.1},{"s":1067,"t":1.05,"V":13.3},{"s":1067,"t":1.15,"V":13.45},
{"s":1067,"V":13.05},{"s":1067,"V":14.6},{"s":1067,"R":100},{"s":1067,"I":100},
{"s":1068,"x":-0.2,"V":18.25},{"s":1068,"x":0.0,"V":18.2},{"s":1068,"x":0.25,"V":18.3},{"s":1068,"x":0.5,"V":18.45},{"s":1068,"x":0.6,"V":18.4},{"s":1068,"x":0.8,"V":18.25},{"s":1068,"x":1.0,"V":18.2},{"s":1068,"x":1.2,"V":18.25},
{"s":1068,"t":-0.15,"V":18.25},{"s":1068,"t":-0.05,"V":18.2},{"s":1068,"t":0.1,"V":18.25},{"s":1068,"t":0.25,"V":18.3},{"s":1068,"t":0.4,"V":18.4},{"s":1068,"t":0.5,"V":18.45},{"s":1068,"t":0.6,"V":18.45},{"s":1068,"t":0.75,"V":18.3},{"s":1068,"t":0.9,"V":18.2},{"s":1068,"t":1.05,"V":18.2},{"s":1068,"t":1.15,"V":18.2},
{"s":1068,"x":-0.2,"R":18.0},{"s":1068,"x":0.0,"R":17.95},{"s":1068,"x":0.2,"R":18.05},{"s":1068,"x":0.45,"R":18.25},{"s":1068,"x":0.6,"R":18.2},{"s":1068,"x":0.8,"R":18.05},{"s":1068,"x":1.0,"R":17.95},{"s":1068,"x":1.2,"R":18.0},
{"s":1068,"t":-0.15,"R":18.0},{"s":1068,"t":0.0,"R":17.95},{"s":1068,"t":0.15,"R":18.0},{"s":1068,"t":0.3,"R":18.1},{"s":1068,"t":0.45,"R":18.25},{"s":1068,"t":0.55,"R":18.2},{"s":1068,"t":0.7,"R":18.15},{"s":1068,"t":0.85,"R":18.0},{"s":1068,"t":1.0,"R":17.95},{"s":1068,"t":1.15,"R":18.0},
{"s":1068,"x":-0.2,"I":17.75},{"s":1068,"x":0.0,"I":17.7},{"s":1068,"x":0.3,"I":17.75},{"s":1068,"x":0.5,"I":17.85},{"s":1068,"x":0.6,"I":17.8},{"s":1068,"x":0.8,"I":17.75},{"s":1068,"x":1.0,"I":17.7},{"s":1068,"x":1.2,"I":17.75},
{"s":1068,"t":-0.15,"I":17.75},{"s":1068,"t":0.0,"I":17.7},{"s":1068,"t":0.15,"I":17.75},{"s":1068,"t":0.3,"I":17.75},{"s":1068,"t":0.45,"I":17.85},{"s":1068,"t":0.55,"I":17.9},{"s":1068,"t":0.7,"I":17.75},{"s":1068,"t":0.85,"I":17.7},{"s":1068,"t":1.0,"I":17.7},{"s":1068,"t":1.15,"I":17.75},
{"s":1068,"V":17.7},{"s":1068,"V":19.05},{"s":1068,"R":17.45},{"s":1068,"R":19.05},{"s":1068,"I":17.25},{"s":1068,"I":18.6},
{"s":1069,"x":-0.2,"V":19.45},{"s":1069,"x":-0.1,"V":19.0},{"s":1069,"x":0.0,"V":18.6},{"s":1069,"x":0.1,"V":18.85},{"s":1069,"x":0.25,"V":19.1},{"s":1069,"x":0.4,"V":19.2},{"s":1069,"x":0.55,"V":19.3},{"s":1069,"x":0.7,"V":19.35},{"s":1069,"x":0.83,"V":19.5},{"s":1069,"x":0.9,"V":19.1},{"s":1069,"x":1.0,"V":18.6},{"s":1069,"x":1.1,"V":18.85},{"s":1069,"x":1.2,"V":19.1},
{"s":1069,"t":-0.18,"V":19.55},{"s":1069,"t":-0.1,"V":19.1},{"s":1069,"t":0.0,"V":18.75},{"s":1069,"t":0.05,"V":19.1},{"s":1069,"t":0.12,"V":19.1},{"s":1069,"t":0.2,"V":19.2},{"s":1069,"t":0.4,"V":19.3},{"s":1069,"t":0.85,"V":19.35},{"s":1069,"t":0.95,"V":19.0},{"s":1069,"t":1.0,"V":18.75},{"s":1069,"t":1.1,"V":19.05},{"s":1069,"t":1.15,"V":19.1},
{"s":1069,"x":-0.2,"R":19.0},{"s":1069,"x":-0.1,"R":18.75},{"s":1069,"x":0.0,"R":18.5},{"s":1069,"x":0.1,"R":18.5},{"s":1069,"x":0.25,"R":18.75},{"s":1069,"x":0.5,"R":18.9},{"s":1069,"x":0.7,"R":18.95},{"s":1069,"x":0.85,"R":18.9},{"s":1069,"x":0.9,"R":18.6},{"s":1069,"x":1.0,"R":18.5},{"s":1069,"x":1.1,"R":18.5},{"s":1069,"x":1.2,"R":18.7},
{"s":1069,"t":-0.12,"R":18.55},{"s":1069,"t":-0.05,"R":18.6},{"s":1069,"t":0.0,"R":18.65},{"s":1069,"t":0.1,"R":18.4},{"s":1069,"t":0.2,"R":18.5},{"s":1069,"t":0.5,"R":18.95},{"s":1069,"t":0.9,"R":18.5},{"s":1069,"t":0.95,"R":18.55},{"s":1069,"t":1.05,"R":18.5},{"s":1069,"t":1.15,"R":18.5},
{"s":1069,"x":-0.2,"I":18.05},{"s":1069,"x":-0.1,"I":17.95},{"s":1069,"x":0.0,"I":17.55},{"s":1069,"x":0.1,"I":17.65},{"s":1069,"x":0.3,"I":17.85},{"s":1069,"x":0.5,"I":17.95},{"s":1069,"x":0.7,"I":18.0},{"s":1069,"x":0.85,"I":17.95},{"s":1069,"x":0.93,"I":17.7},{"s":1069,"x":1.0,"I":17.55},{"s":1069,"x":1.2,"I":17.75},
{"s":1069,"t":-0.15,"I":18.0},{"s":1069,"t":-0.05,"I":17.75},{"s":1069,"t":0.0,"I":17.5},{"s":1069,"t":0.05,"I":17.6},{"s":1069,"t":0.15,"I":17.7},{"s":1069,"t":0.3,"I":17.85},{"s":1069,"t":0.4,"I":17.95},{"s":1069,"t":0.55,"I":17.95},{"s":1069,"t":0.65,"I":18.0},{"s":1069,"t":0.8,"I":17.95},{"s":1069,"t":0.95,"I":17.6},{"s":1069,"t":1.05,"I":17.55},{"s":1069,"t":1.15,"I":17.7},
{"s":1069,"V":18.35},{"s":1069,"V":19.7},{"s":1069,"R":17.98},{"s":1069,"R":19.52},{"s":1069,"I":17.25},{"s":1069,"I":18.6},
{"s":1070,"x":-0.2,"V":15.95},{"s":1070,"x":0.0,"V":15.9},{"s":1070,"x":0.2,"V":16.0},{"s":1070,"x":0.4,"V":16.15},{"s":1070,"x":0.55,"V":16.2},{"s":1070,"x":0.7,"V":16.05},{"s":1070,"x":0.85,"V":15.92},{"s":1070,"x":1.0,"V":15.9},{"s":1070,"x":1.2,"V":15.95},
{"s":1070,"t":-0.15,"V":15.95},{"s":1070,"t":0.0,"V":15.9},{"s":1070,"t":0.1,"V":15.95},{"s":1070,"t":0.3,"V":16.1},{"s":1070,"t":0.4,"V":16.2},{"s":1070,"t":0.5,"V":16.2},{"s":1070,"t":0.6,"V":16.15},{"s":1070,"t":0.75,"V":16.0},{"s":1070,"t":0.9,"V":15.9},{"s":1070,"t":1.05,"V":15.9},{"s":1070,"t":1.15,"V":15.95},
{"s":1070,"x":-0.2,"R":15.55},{"s":1070,"x":0.0,"R":15.5},{"s":1070,"x":0.2,"R":15.55},{"s":1070,"x":0.4,"R":15.7},{"s":1070,"x":0.55,"R":15.8},{"s":1070,"x":0.7,"R":15.65},{"s":1070,"x":0.85,"R":15.55},{"s":1070,"x":1.0,"R":15.5},{"s":1070,"x":1.2,"R":15.55},
{"s":1070,"t":-0.15,"R":15.55},{"s":1070,"t":0.0,"R":15.5},{"s":1070,"t":0.15,"R":15.55},{"s":1070,"t":0.3,"R":15.6},{"s":1070,"t":0.45,"R":15.75},{"s":1070,"t":0.55,"R":15.8},{"s":1070,"t":0.65,"R":15.7},{"s":1070,"t":0.8,"R":15.55},{"s":1070,"t":1.0,"R":15.5},{"s":1070,"t":1.15,"R":15.55},
{"s":1070,"x":-0.2,"I":15.1},{"s":1070,"x":0.0,"I":15.1},{"s":1070,"x":0.3,"I":15.2},{"s":1070,"x":0.5,"I":15.3},{"s":1070,"x":0.6,"I":15.25},{"s":1070,"x":0.8,"I":15.12},{"s":1070,"x":1.0,"I":15.1},{"s":1070,"x":1.2,"I":15.12},
{"s":1070,"t":-0.15,"I":15.1},{"s":1070,"t":0.0,"I":15.1},{"s":1070,"t":0.15,"I":15.15},{"s":1070,"t":0.3,"I":15.2},{"s":1070,"t":0.45,"I":15.25},{"s":1070,"t":0.55,"I":15.3},{"s":1070,"t":0.7,"I":15.2},{"s":1070,"t":0.85,"I":15.1},{"s":1070,"t":1.0,"I":15.1},{"s":1070,"t":1.15,"I":15.1},
{"s":1070,"V":15.45},{"s":1070,"V":16.95},{"s":1070,"R":14.98},{"s":1070,"R":16.52},{"s":1070,"I":14.48},{"s":1070,"I":16.05},
{"s":1071,"x":-0.2,"V":19.1},{"s":1071,"x":-0.1,"V":18.85},{"s":1071,"x":0.0,"V":18.5},{"s":1071,"x":0.1,"V":18.6},{"s":1071,"x":0.25,"V":18.85},{"s":1071,"x":0.4,"V":18.95},{"s":1071,"x":0.55,"V":19.05},{"s":1071,"x":0.7,"V":19.1},{"s":1071,"x":0.8,"V":19.15},{"s":1071,"x":0.9,"V":18.9},{"s":1071,"x":1.0,"V":18.5},{"s":1071,"x":1.2,"V":18.8},
{"s":1071,"t":-0.18,"V":19.25},{"s":1071,"t":-0.15,"V":19.05},{"s":1071,"t":-0.05,"V":18.5},{"s":1071,"t":0.0,"V":18.5},{"s":1071,"t":0.05,"V":18.5},{"s":1071,"t":0.2,"V":18.75},{"s":1071,"t":0.5,"V":19.1},{"s":1071,"t":0.55,"V":19.1},{"s":1071,"t":0.7,"V":19.1},{"s":1071,"t":0.75,"V":19.0},{"s":1071,"t":0.8,"V":19.2},{"s":1071,"t":0.85,"V":18.9},{"s":1071,"t":0.95,"V":18.5},{"s":1071,"t":1.0,"V":18.5},{"s":1071,"t":1.1,"V":18.6},{"s":1071,"t":1.15,"V":18.65},
{"s":1071,"x":-0.2,"I":17.55},{"s":1071,"x":-0.1,"I":17.3},{"s":1071,"x":0.0,"I":16.85},{"s":1071,"x":0.1,"I":17.0},{"s":1071,"x":0.25,"I":17.2},{"s":1071,"x":0.4,"I":17.35},{"s":1071,"x":0.55,"I":17.5},{"s":1071,"x":0.7,"I":17.6},{"s":1071,"x":0.78,"I":17.65},{"s":1071,"x":0.9,"I":17.2},{"s":1071,"x":0.98,"I":16.85},{"s":1071,"x":1.1,"I":17.0},{"s":1071,"x":1.2,"I":17.15},
{"s":1071,"t":-0.18,"I":17.6},{"s":1071,"t":-0.15,"I":17.05},{"s":1071,"t":-0.1,"I":17.05},{"s":1071,"t":0.55,"I":17.55},{"s":1071,"t":0.6,"I":17.6},{"s":1071,"t":0.7,"I":17.6},{"s":1071,"t":0.75,"I":17.65},{"s":1071,"t":0.85,"I":17.05},{"s":1071,"t":0.88,"I":17.05},{"s":1071,"t":1.0,"I":16.9},{"s":1071,"t":1.1,"I":17.05},
{"s":1071,"V":18.2},{"s":1071,"V":19.75},{"s":1071,"I":16.75},{"s":1071,"I":18.15},{"s":1071,"R":100},
{"s":1072,"x":-0.2,"V":18.0},{"s":1072,"x":-0.1,"V":17.55},{"s":1072,"x":0.0,"V":17.0},{"s":1072,"x":0.05,"V":16.95},{"s":1072,"x":0.15,"V":17.25},{"s":1072,"x":0.3,"V":17.45},{"s":1072,"x":0.5,"V":17.6},{"s":1072,"x":0.65,"V":17.7},{"s":1072,"x":0.8,"V":17.9},{"s":1072,"x":0.9,"V":17.5},{"s":1072,"x":1.0,"V":17.0},{"s":1072,"x":1.05,"V":16.95},{"s":1072,"x":1.2,"V":17.3},
{"s":1072,"t":-0.17,"V":17.95},{"s":1072,"t":-0.12,"V":17.8},{"s":1072,"t":-0.08,"V":17.6},{"s":1072,"t":-0.05,"V":17.2},{"s":1072,"t":0.0,"V":17.0},{"s":1072,"t":0.05,"V":17.0},{"s":1072,"t":0.1,"V":17.2},{"s":1072,"t":0.2,"V":17.35},{"s":1072,"t":0.4,"V":17.55},{"s":1072,"t":0.5,"V":17.6},{"s":1072,"t":0.6,"V":17.7},{"s":1072,"t":0.7,"V":17.75},{"s":1072,"t":0.8,"V":17.95},{"s":1072,"t":0.88,"V":17.8},{"s":1072,"t":0.93,"V":17.35},{"s":1072,"t":1.05,"V":17.0},{"s":1072,"t":1.1,"V":17.05},
{"s":1072,"x":-0.2,"I":15.7},{"s":1072,"x":-0.1,"I":15.55},{"s":1072,"x":0.0,"I":15.15},{"s":1072,"x":0.1,"I":15.25},{"s":1072,"x":0.3,"I":15.35},{"s":1072,"x":0.5,"I":15.45},{"s":1072,"x":0.7,"I":15.55},{"s":1072,"x":0.8,"I":15.6},{"s":1072,"x":0.9,"I":15.45},{"s":1072,"x":1.0,"I":15.15},{"s":1072,"x":1.2,"I":15.3},
{"s":1072,"t":-0.18,"I":15.7},{"s":1072,"t":-0.15,"I":15.6},{"s":1072,"t":-0.05,"I":15.4},{"s":1072,"t":0.0,"I":15.2},{"s":1072,"t":0.1,"I":15.25},{"s":1072,"t":0.2,"I":15.3},{"s":1072,"t":0.3,"I":15.35},{"s":1072,"t":0.45,"I":15.45},{"s":1072,"t":0.55,"I":15.45},{"s":1072,"t":0.7,"I":15.55},{"s":1072,"t":0.8,"I":15.65},{"s":1072,"t":0.85,"I":15.55},{"s":1072,"t":1.0,"I":15.2},{"s":1072,"t":1.1,"I":15.2},
{"s":1072,"V":16.8},{"s":1072,"V":18.2},{"s":1072,"I":14.8},{"s":1072,"I":16.3},{"s":1072,"R":100},
{"s":1073,"x":-0.2,"V":16.5},{"s":1073,"x":-0.1,"V":16.25},{"s":1073,"x":0.0,"V":15.95},{"s":1073,"x":0.1,"V":16.05},{"s":1073,"x":0.3,"V":16.3},{"s":1073,"x":0.5,"V":16.45},{"s":1073,"x":0.7,"V":16.55},{"s":1073,"x":0.8,"V":16.6},{"s":1073,"x":0.9,"V":16.3},{"s":1073,"x":0.97,"V":15.95},{"s":1073,"x":1.1,"V":16.0},{"s":1073,"x":1.2,"V":16.15},
{"s":1073,"t":-0.15,"V":16.4},{"s":1073,"t":0.0,"V":15.95},{"s":1073,"t":0.1,"V":16.1},{"s":1073,"t":0.2,"V":16.2},{"s":1073,"t":0.3,"V":16.3},{"s":1073,"t":0.4,"V":16.4},{"s":1073,"t":0.5,"V":16.45},{"s":1073,"t":0.6,"V":16.5},{"s":1073,"t":0.7,"V":16.55},{"s":1073,"t":0.95,"V":16.0},{"s":1073,"t":1.05,"V":16.0},{"s":1073,"t":1.15,"V":16.1},
{"s":1073,"x":-0.2,"R":16.0},{"s":1073,"x":-0.1,"R":15.75},{"s":1073,"x":0.0,"R":15.5},{"s":1073,"x":0.1,"R":15.55},{"s":1073,"x":0.3,"R":15.75},{"s":1073,"x":0.5,"R":15.85},{"s":1073,"x":0.7,"R":15.95},{"s":1073,"x":0.8,"R":16.05},{"s":1073,"x":0.9,"R":15.75},{"s":1073,"x":0.97,"R":15.5},{"s":1073,"x":1.1,"R":15.55},{"s":1073,"x":1.2,"R":15.65},
{"s":1073,"t":-0.15,"R":15.9},{"s":1073,"t":-0.05,"R":15.6},{"s":1073,"t":0.0,"R":15.5},{"s":1073,"t":0.15,"R":15.6},{"s":1073,"t":0.3,"R":15.75},{"s":1073,"t":0.45,"R":15.85},{"s":1073,"t":0.6,"R":15.9},{"s":1073,"t":0.75,"R":16.0},{"s":1073,"t":0.85,"R":16.0},{"s":1073,"t":0.97,"R":15.5},{"s":1073,"t":1.1,"R":15.55},{"s":1073,"t":1.15,"R":15.65},
{"s":1073,"x":-0.2,"I":15.35},{"s":1073,"x":-0.1,"I":15.15},{"s":1073,"x":0.0,"I":15.0},{"s":1073,"x":0.2,"I":15.1},{"s":1073,"x":0.4,"I":15.25},{"s":1073,"x":0.6,"I":15.35},{"s":1073,"x":0.75,"I":15.4},{"s":1073,"x":0.85,"I":15.3},{"s":1073,"x":0.95,"I":15.0},{"s":1073,"x":1.2,"I":15.05},
{"s":1073,"t":-0.15,"I":15.3},{"s":1073,"t":0.0,"I":15.0},{"s":1073,"t":0.1,"I":15.05},{"s":1073,"t":0.25,"I":15.15},{"s":1073,"t":0.4,"I":15.25},{"s":1073,"t":0.55,"I":15.3},{"s":1073,"t":0.7,"I":15.4},{"s":1073,"t":0.8,"I":15.45},{"s":1073,"t":0.95,"I":15.0},{"s":1073,"t":1.1,"I":15.05},
{"s":1073,"V":15.7},{"s":1073,"V":17.1},{"s":1073,"R":15.2},{"s":1073,"R":16.55},{"s":1073,"I":14.48},{"s":1073,"I":16.05},
{"s":1074,"x":-0.2,"V":17.8},{"s":1074,"x":-0.1,"V":17.3},{"s":1074,"x":0.0,"V":16.5},{"s":1074,"x":0.1,"V":16.85},{"s":1074,"x":0.25,"V":17.2},{"s":1074,"x":0.4,"V":17.45},{"s":1074,"x":0.55,"V":17.65},{"s":1074,"x":0.7,"V":17.6},{"s":1074,"x":0.85,"V":17.75},{"s":1074,"x":0.92,"V":17.3},{"s":1074,"x":1.0,"V":16.5},{"s":1074,"x":1.1,"V":16.85},{"s":1074,"x":1.2,"V":17.2},
{"s":1074,"t":-0.18,"V":17.8},{"s":1074,"t":-0.1,"V":17.6},{"s":1074,"t":0.0,"V":16.5},{"s":1074,"t":0.05,"V":16.7},{"s":1074,"t":0.1,"V":16.9},{"s":1074,"t":0.2,"V":17.1},{"s":1074,"t":0.3,"V":17.3},{"s":1074,"t":0.4,"V":17.45},{"s":1074,"t":0.5,"V":17.6},{"s":1074,"t":0.65,"V":17.6},{"s":1074,"t":0.75,"V":17.6},{"s":1074,"t":0.85,"V":17.75},{"s":1074,"t":1.0,"V":16.55},{"s":1074,"t":1.1,"V":16.85},{"s":1074,"t":1.18,"V":17.05},
{"s":1074,"x":-0.2,"R":17.1},{"s":1074,"x":-0.1,"R":16.7},{"s":1074,"x":0.0,"R":16.1},{"s":1074,"x":0.1,"R":16.3},{"s":1074,"x":0.25,"R":16.55},{"s":1074,"x":0.4,"R":16.75},{"s":1074,"x":0.55,"R":16.9},{"s":1074,"x":0.7,"R":17.0},{"s":1074,"x":0.85,"R":17.1},{"s":1074,"x":0.92,"R":16.6},{"s":1074,"x":1.0,"R":16.1},{"s":1074,"x":1.1,"R":16.3},{"s":1074,"x":1.2,"R":16.55},
{"s":1074,"t":0.05,"R":16.2},{"s":1074,"t":0.15,"R":16.4},{"s":1074,"t":0.25,"R":16.55},{"s":1074,"t":0.35,"R":16.7},{"s":1074,"t":0.45,"R":16.8},{"s":1074,"t":0.55,"R":16.9},{"s":1074,"t":0.7,"R":17.0},{"s":1074,"t":1.1,"R":16.25},{"s":1074,"t":1.18,"R":16.5},
{"s":1074,"x":-0.2,"I":16.4},{"s":1074,"x":-0.1,"I":16.15},{"s":1074,"x":0.0,"I":15.65},{"s":1074,"x":0.1,"I":15.85},{"s":1074,"x":0.25,"I":16.0},{"s":1074,"x":0.4,"I":16.15},{"s":1074,"x":0.55,"I":16.25},{"s":1074,"x":0.7,"I":16.3},{"s":1074,"x":0.85,"I":16.35},{"s":1074,"x":0.92,"I":16.0},{"s":1074,"x":1.0,"I":15.65},{"s":1074,"x":1.1,"I":15.8},{"s":1074,"x":1.2,"I":16.0},
{"s":1074,"t":-0.18,"I":16.45},{"s":1074,"t":-0.12,"I":16.3},{"s":1074,"t":-0.05,"I":16.05},{"s":1074,"t":0.0,"I":15.7},{"s":1074,"t":0.1,"I":15.85},{"s":1074,"t":0.2,"I":15.95},{"s":1074,"t":0.35,"I":16.1},{"s":1074,"t":0.5,"I":16.2},{"s":1074,"t":0.65,"I":16.25},{"s":1074,"t":0.8,"I":16.3},{"s":1074,"t":0.9,"I":16.4},{"s":1074,"t":1.0,"I":15.7},{"s":1074,"t":1.1,"I":15.8},
{"s":1074,"V":16.45},{"s":1074,"V":18.02},{"s":1074,"R":15.98},{"s":1074,"R":17.35},{"s":1074,"I":15.3},{"s":1074,"I":16.85},
{"s":1075,"x":-0.2,"V":15.3},{"s":1075,"x":-0.1,"V":15.05},{"s":1075,"x":0.0,"V":14.85},{"s":1075,"x":0.1,"V":14.95},{"s":1075,"x":0.25,"V":15.0},{"s":1075,"x":0.4,"V":15.2},{"s":1075,"x":0.55,"V":15.3},{"s":1075,"x":0.7,"V":15.35},{"s":1075,"x":0.85,"V":15.3},{"s":1075,"x":0.92,"V":15.0},{"s":1075,"x":1.0,"V":14.85},{"s":1075,"x":1.2,"V":15.0},
{"s":1075,"t":-0.18,"V":15.35},{"s":1075,"t":-0.12,"V":15.1},{"s":1075,"t":-0.05,"V":14.95},{"s":1075,"t":0.0,"V":14.8},{"s":1075,"t":0.05,"V":14.95},{"s":1075,"t":0.1,"V":14.85},{"s":1075,"t":0.15,"V":15.05},{"s":1075,"t":0.2,"V":14.95},{"s":1075,"t":0.3,"V":15.0},{"s":1075,"t":0.35,"V":15.1},{"s":1075,"t":0.45,"V":15.25},{"s":1075,"t":0.55,"V":15.3},{"s":1075,"t":0.65,"V":15.35},{"s":1075,"t":0.75,"V":15.3},{"s":1075,"t":0.85,"V":15.3},{"s":1075,"t":0.95,"V":14.85},{"s":1075,"t":1.0,"V":14.95},{"s":1075,"t":1.05,"V":14.85},{"s":1075,"t":1.1,"V":15.05},{"s":1075,"t":1.15,"V":14.9},
{"s":1075,"x":-0.2,"R":14.3},{"s":1075,"x":-0.1,"R":13.9},{"s":1075,"x":0.0,"R":13.6},{"s":1075,"x":0.1,"R":13.75},{"s":1075,"x":0.25,"R":13.95},{"s":1075,"x":0.4,"R":14.0},{"s":1075,"x":0.55,"R":14.05},{"s":1075,"x":0.7,"R":14.1},{"s":1075,"x":0.85,"R":14.15},{"s":1075,"x":0.92,"R":13.85},{"s":1075,"x":1.0,"R":13.6},{"s":1075,"x":1.2,"R":13.9},
{"s":1075,"t":-0.18,"R":14.45},{"s":1075,"t":-0.15,"R":14.35},{"s":1075,"t":-0.1,"R":13.7},{"s":1075,"t":-0.05,"R":13.6},{"s":1075,"t":0.0,"R":13.85},{"s":1075,"t":0.05,"R":13.95},{"s":1075,"t":0.1,"R":13.6},{"s":1075,"t":0.15,"R":13.8},{"s":1075,"t":0.2,"R":14.0},{"s":1075,"t":0.25,"R":13.9},{"s":1075,"t":0.3,"R":13.75},{"s":1075,"t":0.35,"R":14.0},{"s":1075,"t":0.4,"R":13.85},{"s":1075,"t":0.45,"R":14.05},{"s":1075,"t":0.5,"R":14.0},{"s":1075,"t":0.55,"R":13.95},{"s":1075,"t":0.6,"R":14.1},{"s":1075,"t":0.7,"R":14.1},{"s":1075,"t":0.75,"R":14.0},{"s":1075,"t":0.8,"R":14.2},{"s":1075,"t":0.85,"R":14.35},{"s":1075,"t":0.9,"R":14.35},{"s":1075,"t":0.95,"R":13.6},{"s":1075,"t":1.0,"R":13.7},{"s":1075,"t":1.05,"R":14.1},{"s":1075,"t":1.1,"R":13.6},{"s":1075,"t":1.15,"R":14.15},
{"s":1075,"V":14.45},{"s":1075,"V":15.75},{"s":1075,"R":13.25},{"s":1075,"R":14.75},{"s":1075,"I":100},
{"s":1076,"V":100},
{"s":1076,"x":-0.2,"R":18.85},{"s":1076,"x":-0.1,"R":18.5},{"s":1076,"x":0.0,"R":18.2},{"s":1076,"x":0.1,"R":18.35},{"s":1076,"x":0.25,"R":18.6},{"s":1076,"x":0.4,"R":18.8},{"s":1076,"x":0.55,"R":18.9},{"s":1076,"x":0.7,"R":18.9},{"s":1076,"x":0.85,"R":18.9},{"s":1076,"x":0.92,"R":18.6},{"s":1076,"x":1.0,"R":18.2},{"s":1076,"x":1.1,"R":18.35},{"s":1076,"x":1.2,"R":18.5},
{"s":1076,"t":-0.18,"R":18.55},{"s":1076,"t":0.0,"R":18.15},{"s":1076,"t":0.05,"R":18.3},{"s":1076,"t":0.15,"R":18.45},{"s":1076,"t":0.2,"R":18.5},{"s":1076,"t":0.3,"R":18.7},{"s":1076,"t":0.4,"R":18.85},{"s":1076,"t":0.45,"R":18.8},{"s":1076,"t":0.55,"R":18.95},{"s":1076,"t":0.6,"R":18.9},{"s":1076,"t":0.7,"R":18.9},{"s":1076,"t":0.85,"R":18.5},{"s":1076,"t":1.0,"R":18.25},{"s":1076,"t":1.1,"R":18.3},{"s":1076,"t":1.18,"R":18.4},
{"s":1076,"x":-0.2,"I":17.95},{"s":1076,"x":-0.1,"I":17.5},{"s":1076,"x":0.0,"I":17.15},{"s":1076,"x":0.1,"I":17.25},{"s":1076,"x":0.25,"I":17.4},{"s":1076,"x":0.4,"I":17.55},{"s":1076,"x":0.55,"I":17.65},{"s":1076,"x":0.7,"I":17.75},{"s":1076,"x":0.85,"I":17.85},{"s":1076,"x":0.9,"I":17.5},{"s":1076,"x":1.0,"I":17.15},{"s":1076,"x":1.1,"I":17.25},{"s":1076,"x":1.2,"I":17.4},
{"s":1076,"t":-0.18,"I":17.9},{"s":1076,"t":-0.15,"I":17.95},{"s":1076,"t":-0.1,"I":17.6},{"s":1076,"t":0.0,"I":17.2},{"s":1076,"t":0.05,"I":17.15},{"s":1076,"t":0.15,"I":17.3},{"s":1076,"t":0.3,"I":17.45},{"s":1076,"t":0.45,"I":17.6},{"s":1076,"t":0.6,"I":17.7},{"s":1076,"t":0.75,"I":17.75},{"s":1076,"t":0.85,"I":18.0},{"s":1076,"t":0.9,"I":17.55},{"s":1076,"t":1.0,"I":17.2},{"s":1076,"t":1.1,"I":17.25},
{"s":1076,"R":17.85},{"s":1076,"R":19.3},{"s":1076,"I":16.85},{"s":1076,"I":18.35},
{"s":1077,"x":-0.2,"V":17.5},{"s":1077,"x":0.0,"V":17.4},{"s":1077,"x":0.2,"V":17.55},{"s":1077,"x":0.4,"V":17.8},{"s":1077,"x":0.55,"V":17.9},{"s":1077,"x":0.7,"V":17.8},{"s":1077,"x":0.85,"V":17.55},{"s":1077,"x":1.0,"V":17.4},{"s":1077,"x":1.2,"V":17.5},
{"s":1077,"t":-0.15,"V":17.45},{"s":1077,"t":0.0,"V":17.4},{"s":1077,"t":0.1,"V":17.45},{"s":1077,"t":0.25,"V":17.6},{"s":1077,"t":0.4,"V":17.8},{"s":1077,"t":0.5,"V":17.85},{"s":1077,"t":0.6,"V":17.85},{"s":1077,"t":0.7,"V":17.8},{"s":1077,"t":0.85,"V":17.55},{"s":1077,"t":1.0,"V":17.4},{"s":1077,"t":1.15,"V":17.5},
{"s":1077,"x":-0.2,"R":16.75},{"s":1077,"x":0.0,"R":16.7},{"s":1077,"x":0.2,"R":16.8},{"s":1077,"x":0.4,"R":16.95},{"s":1077,"x":0.55,"R":17.0},{"s":1077,"x":0.7,"R":16.9},{"s":1077,"x":0.85,"R":16.72},{"s":1077,"x":1.0,"R":16.7},{"s":1077,"x":1.2,"R":16.75},
{"s":1077,"t":-0.15,"R":16.75},{"s":1077,"t":0.0,"R":16.7},{"s":1077,"t":0.15,"R":16.75},{"s":1077,"t":0.3,"R":16.85},{"s":1077,"t":0.45,"R":17.0},{"s":1077,"t":0.55,"R":17.0},{"s":1077,"t":0.7,"R":16.9},{"s":1077,"t":0.85,"R":16.75},{"s":1077,"t":1.0,"R":16.7},{"s":1077,"t":1.15,"R":16.75},
{"s":1077,"x":-0.2,"I":15.8},{"s":1077,"x":0.0,"I":15.75},{"s":1077,"x":0.2,"I":15.8},{"s":1077,"x":0.4,"I":15.95},{"s":1077,"x":0.55,"I":16.0},{"s":1077,"x":0.7,"I":15.9},{"s":1077,"x":0.85,"I":15.78},{"s":1077,"x":1.0,"I":15.75},{"s":1077,"x":1.2,"I":15.8},
{"s":1077,"t":-0.15,"I":15.8},{"s":1077,"t":0.0,"I":15.75},{"s":1077,"t":0.15,"I":15.8},{"s":1077,"t":0.3,"I":15.85},{"s":1077,"t":0.45,"I":15.95},{"s":1077,"t":0.55,"I":16.0},{"s":1077,"t":0.7,"I":15.9},{"s":1077,"t":0.85,"I":15.8},{"s":1077,"t":1.0,"I":15.75},{"s":1077,"t":1.15,"I":15.8},
{"s":1077,"V":16.95},{"s":1077,"V":18.35},{"s":1077,"R":16.3},{"s":1077,"R":17.7},{"s":1077,"I":15.3},{"s":1077,"I":16.7},
{"s":1078,"x":-0.2,"V":17.45},{"s":1078,"x":0.0,"V":17.35},{"s":1078,"x":0.2,"V":17.45},{"s":1078,"x":0.4,"V":17.65},{"s":1078,"x":0.5,"V":17.7},{"s":1078,"x":0.65,"V":17.55},{"s":1078,"x":0.85,"V":17.4},{"s":1078,"x":1.0,"V":17.35},{"s":1078,"x":1.2,"V":17.4},
{"s":1078,"t":-0.15,"V":17.45},{"s":1078,"t":-0.05,"V":17.35},{"s":1078,"t":0.05,"V":17.4},{"s":1078,"t":0.15,"V":17.45},{"s":1078,"t":0.3,"V":17.55},{"s":1078,"t":0.4,"V":17.65},{"s":1078,"t":0.5,"V":17.7},{"s":1078,"t":0.6,"V":17.6},{"s":1078,"t":0.75,"V":17.45},{"s":1078,"t":0.9,"V":17.4},{"s":1078,"t":1.05,"V":17.35},{"s":1078,"t":1.15,"V":17.4},
{"s":1078,"x":-0.2,"R":16.75},{"s":1078,"x":0.0,"R":16.65},{"s":1078,"x":0.2,"R":16.75},{"s":1078,"x":0.4,"R":17.0},{"s":1078,"x":0.55,"R":17.0},{"s":1078,"x":0.7,"R":16.85},{"s":1078,"x":0.85,"R":16.75},{"s":1078,"x":1.0,"R":16.65},{"s":1078,"x":1.2,"R":16.75},
{"s":1078,"t":-0.18,"R":16.8},{"s":1078,"t":0.0,"R":16.65},{"s":1078,"t":0.4,"R":17.0},{"s":1078,"t":0.45,"R":17.0},{"s":1078,"t":0.55,"R":16.95},{"s":1078,"t":0.85,"R":16.75},{"s":1078,"t":0.95,"R":16.6},{"s":1078,"t":1.15,"R":16.75},
{"s":1078,"x":-0.2,"I":16.0},{"s":1078,"x":0.0,"I":15.95},{"s":1078,"x":0.2,"I":16.1},{"s":1078,"x":0.4,"I":16.3},{"s":1078,"x":0.55,"I":16.3},{"s":1078,"x":0.7,"I":16.15},{"s":1078,"x":0.85,"I":16.0},{"s":1078,"x":1.0,"I":15.95},{"s":1078,"x":1.2,"I":16.0},
{"s":1078,"t":-0.15,"I":16.05},{"s":1078,"t":0.0,"I":15.95},{"s":1078,"t":0.15,"I":16.05},{"s":1078,"t":0.25,"I":16.1},{"s":1078,"t":0.4,"I":16.3},{"s":1078,"t":0.5,"I":16.3},{"s":1078,"t":0.6,"I":16.25},{"s":1078,"t":0.75,"I":16.1},{"s":1078,"t":0.9,"I":16.0},{"s":1078,"t":1.05,"I":15.95},{"s":1078,"t":1.15,"I":16.0},
{"s":1078,"V":16.85},{"s":1078,"V":18.3},{"s":1078,"R":16.25},{"s":1078,"R":17.55},{"s":1078,"I":15.48},{"s":1078,"I":17.02},
{"s":1079,"x":-0.2,"V":16.95},{"s":1079,"x":0.0,"V":16.9},{"s":1079,"x":0.2,"V":16.95},{"s":1079,"x":0.4,"V":17.2},{"s":1079,"x":0.55,"V":17.25},{"s":1079,"x":0.7,"V":17.1},{"s":1079,"x":0.85,"V":16.95},{"s":1079,"x":1.0,"V":16.9},{"s":1079,"x":1.2,"V":16.95},
{"s":1079,"t":-0.15,"V":16.9},{"s":1079,"t":0.0,"V":16.9},{"s":1079,"t":0.1,"V":16.95},{"s":1079,"t":0.25,"V":17.0},{"s":1079,"t":0.35,"V":17.15},{"s":1079,"t":0.45,"V":17.25},{"s":1079,"t":0.55,"V":17.25},{"s":1079,"t":0.65,"V":17.1},{"s":1079,"t":0.8,"V":16.95},{"s":1079,"t":1.0,"V":16.9},{"s":1079,"t":1.15,"V":16.95},
{"s":1079,"x":-0.2,"R":15.75},{"s":1079,"x":0.0,"R":15.7},{"s":1079,"x":0.2,"R":15.8},{"s":1079,"x":0.4,"R":15.95},{"s":1079,"x":0.55,"R":16.05},{"s":1079,"x":0.7,"R":15.9},{"s":1079,"x":0.85,"R":15.75},{"s":1079,"x":1.0,"R":15.7},{"s":1079,"x":1.2,"R":15.75},
{"s":1079,"t":-0.15,"R":15.75},{"s":1079,"t":0.0,"R":15.7},{"s":1079,"t":0.15,"R":15.8},{"s":1079,"t":0.3,"R":15.9},{"s":1079,"t":0.45,"R":16.0},{"s":1079,"t":0.55,"R":16.05},{"s":1079,"t":0.7,"R":15.9},{"s":1079,"t":0.85,"R":15.75},{"s":1079,"t":1.0,"R":15.7},{"s":1079,"t":1.15,"R":15.75},
{"s":1079,"x":-0.2,"I":14.3},{"s":1079,"x":0.0,"I":14.25},{"s":1079,"x":0.2,"I":14.3},{"s":1079,"x":0.4,"I":14.42},{"s":1079,"x":0.55,"I":14.45},{"s":1079,"x":0.7,"I":14.35},{"s":1079,"x":0.85,"I":14.28},{"s":1079,"x":1.0,"I":14.25},{"s":1079,"x":1.2,"I":14.3},
{"s":1079,"t":-0.15,"I":14.3},{"s":1079,"t":0.0,"I":14.25},{"s":1079,"t":0.15,"I":14.3},{"s":1079,"t":0.3,"I":14.35},{"s":1079,"t":0.45,"I":14.45},{"s":1079,"t":0.55,"I":14.45},{"s":1079,"t":0.7,"I":14.35},{"s":1079,"t":0.85,"I":14.3},{"s":1079,"t":1.0,"I":14.25},{"s":1079,"t":1.15,"I":14.3},
{"s":1079,"V":16.45},{"s":1079,"V":17.8},{"s":1079,"R":15.3},{"s":1079,"R":16.65},{"s":1079,"I":13.8},{"s":1079,"I":15.1},
{"s":1080,"x":-0.2,"V":18.35},{"s":1080,"x":-0.1,"V":18.1},{"s":1080,"x":0.0,"V":17.7},{"s":1080,"x":0.1,"V":17.85},{"s":1080,"x":0.25,"V":18.05},{"s":1080,"x":0.4,"V":18.2},{"s":1080,"x":0.55,"V":18.3},{"s":1080,"x":0.7,"V":18.3},{"s":1080,"x":0.85,"V":18.35},{"s":1080,"x":0.92,"V":18.0},{"s":1080,"x":1.0,"V":17.7},{"s":1080,"x":1.1,"V":17.85},{"s":1080,"x":1.2,"V":17.95},
{"s":1080,"t":-0.18,"V":18.35},{"s":1080,"t":-0.15,"V":18.3},{"s":1080,"t":0.0,"V":17.7},{"s":1080,"t":0.1,"V":17.85},{"s":1080,"t":0.2,"V":17.95},{"s":1080,"t":0.3,"V":18.1},{"s":1080,"t":0.4,"V":18.25},{"s":1080,"t":0.5,"V":18.3},{"s":1080,"t":0.6,"V":18.3},{"s":1080,"t":0.7,"V":18.25},{"s":1080,"t":0.8,"V":18.35},{"s":1080,"t":1.0,"V":17.7},{"s":1080,"t":1.1,"V":17.85},
{"s":1080,"x":-0.2,"R":17.6},{"s":1080,"x":-0.1,"R":17.2},{"s":1080,"x":0.0,"R":16.95},{"s":1080,"x":0.1,"R":17.1},{"s":1080,"x":0.25,"R":17.3},{"s":1080,"x":0.4,"R":17.45},{"s":1080,"x":0.55,"R":17.5},{"s":1080,"x":0.7,"R":17.55},{"s":1080,"x":0.85,"R":17.6},{"s":1080,"x":0.92,"R":17.2},{"s":1080,"x":1.0,"R":16.95},{"s":1080,"x":1.1,"R":17.05},{"s":1080,"x":1.2,"R":17.2},
{"s":1080,"t":-0.18,"R":17.6},{"s":1080,"t":-0.1,"R":17.2},{"s":1080,"t":0.0,"R":16.95},{"s":1080,"t":0.1,"R":17.1},{"s":1080,"t":0.2,"R":17.25},{"s":1080,"t":0.35,"R":17.4},{"s":1080,"t":0.5,"R":17.5},{"s":1080,"t":0.65,"R":17.5},{"s":1080,"t":0.8,"R":17.65},{"s":1080,"t":0.85,"R":17.7},{"s":1080,"t":1.0,"R":16.95},{"s":1080,"t":1.1,"R":17.05},
{"s":1080,"V":17.3},{"s":1080,"V":18.7},{"s":1080,"R":16.7},{"s":1080,"R":18.3},{"s":1080,"I":100},
{"s":1081,"x":-0.2,"V":19.1},{"s":1081,"x":-0.1,"V":18.5},{"s":1081,"x":0.0,"V":18.0},{"s":1081,"x":0.1,"V":18.3},{"s":1081,"x":0.2,"V":18.55},{"s":1081,"x":0.35,"V":18.8},{"s":1081,"x":0.5,"V":18.95},{"s":1081,"x":0.65,"V":19.0},{"s":1081,"x":0.8,"V":19.1},{"s":1081,"x":0.9,"V":18.5},{"s":1081,"x":1.0,"V":18.0},{"s":1081,"x":1.1,"V":18.3},{"s":1081,"x":1.2,"V":18.55},
{"s":1081,"t":-0.17,"V":19.1},{"s":1081,"t":-0.05,"V":18.35},{"s":1081,"t":0.1,"V":18.45},{"s":1081,"t":0.15,"V":18.2},{"s":1081,"t":0.2,"V":18.15},{"s":1081,"t":0.25,"V":18.6},{"s":1081,"t":0.35,"V":18.9},{"s":1081,"t":0.8,"V":19.05},{"s":1081,"t":0.95,"V":18.3},{"s":1081,"t":1.0,"V":18.05},{"s":1081,"t":1.1,"V":18.4},{"s":1081,"t":1.15,"V":18.5},{"s":1081,"t":1.18,"V":18.2},
{"s":1081,"V":17.95},{"s":1081,"V":19.35},{"s":1081,"R":100},{"s":1081,"I":100},
{"s":589,"x":-0.2,"V":17.45},{"s":589,"x":-0.1,"V":17.25},{"s":589,"x":0.0,"V":16.6},{"s":589,"x":0.1,"V":16.8},{"s":589,"x":0.25,"V":16.95},{"s":589,"x":0.4,"V":17.1},{"s":589,"x":0.55,"V":17.25},{"s":589,"x":0.7,"V":17.35},{"s":589,"x":0.85,"V":17.45},{"s":589,"x":0.92,"V":17.1},{"s":589,"x":1.0,"V":16.6},{"s":589,"x":1.1,"V":16.8},{"s":589,"x":1.2,"V":16.95},
{"s":589,"t":-0.18,"V":17.45},{"s":589,"t":-0.1,"V":17.3},{"s":589,"t":-0.02,"V":16.7},{"s":589,"t":0.05,"V":16.7},{"s":589,"t":0.15,"V":16.85},{"s":589,"t":0.3,"V":17.0},{"s":589,"t":0.45,"V":17.15},{"s":589,"t":0.55,"V":17.25},{"s":589,"t":0.65,"V":17.3},{"s":589,"t":0.75,"V":17.35},{"s":589,"t":0.85,"V":17.45},{"s":589,"t":0.9,"V":17.3},{"s":589,"t":1.0,"V":16.65},{"s":589,"t":1.1,"V":16.8},{"s":589,"t":1.18,"V":16.9},
{"s":589,"x":-0.2,"R":16.8},{"s":589,"x":-0.1,"R":16.6},{"s":589,"x":0.0,"R":16.15},{"s":589,"x":0.1,"R":16.3},{"s":589,"x":0.25,"R":16.45},{"s":589,"x":0.4,"R":16.55},{"s":589,"x":0.55,"R":16.65},{"s":589,"x":0.7,"R":16.7},{"s":589,"x":0.85,"R":16.75},{"s":589,"x":0.92,"R":16.45},{"s":589,"x":1.0,"R":16.15},{"s":589,"x":1.1,"R":16.3},{"s":589,"x":1.2,"R":16.45},
{"s":589,"t":-0.18,"R":16.8},{"s":589,"t":-0.1,"R":16.75},{"s":589,"t":0.0,"R":16.2},{"s":589,"t":0.1,"R":16.3},{"s":589,"t":0.2,"R":16.45},{"s":589,"t":0.3,"R":16.5},{"s":589,"t":0.45,"R":16.6},{"s":589,"t":0.6,"R":16.65},{"s":589,"t":0.75,"R":16.8},{"s":589,"t":0.85,"R":16.8},{"s":589,"t":1.0,"R":16.15},{"s":589,"t":1.1,"R":16.3},
{"s":589,"x":-0.2,"I":16.15},{"s":589,"x":-0.1,"I":16.05},{"s":589,"x":0.0,"I":15.8},{"s":589,"x":0.1,"I":15.85},{"s":589,"x":0.25,"I":15.95},{"s":589,"x":0.4,"I":16.0},{"s":589,"x":0.55,"I":16.05},{"s":589,"x":0.7,"I":16.1},{"s":589,"x":0.8,"I":16.2},{"s":589,"x":0.92,"I":15.9},{"s":589,"x":1.0,"I":15.8},{"s":589,"x":1.2,"I":15.95},
{"s":589,"t":-0.18,"I":16.15},{"s":589,"t":0.0,"I":15.8},{"s":589,"t":0.05,"I":15.85},{"s":589,"t":0.15,"I":15.9},{"s":589,"t":0.3,"I":15.95},{"s":589,"t":0.45,"I":16.0},{"s":589,"t":0.6,"I":16.05},{"s":589,"t":0.75,"I":16.15},{"s":589,"t":0.8,"I":16.2},{"s":589,"t":1.0,"I":15.8},{"s":589,"t":1.1,"I":15.85},
{"s":589,"V":16.3},{"s":589,"V":17.75},{"s":589,"R":15.85},{"s":589,"R":17.3},{"s":589,"I":15.35},{"s":589,"I":16.85},
{"s":1082,"V":100},
{"s":1082,"x":-0.2,"R":18.25},{"s":1082,"x":-0.1,"R":17.9},{"s":1082,"x":0.0,"R":17.45},{"s":1082,"x":0.1,"R":17.65},{"s":1082,"x":0.25,"R":17.85},{"s":1082,"x":0.4,"R":18.0},{"s":1082,"x":0.55,"R":18.1},{"s":1082,"x":0.7,"R":18.15},{"s":1082,"x":0.85,"R":18.2},{"s":1082,"x":0.92,"R":17.85},{"s":1082,"x":1.0,"R":17.45},{"s":1082,"x":1.1,"R":17.65},{"s":1082,"x":1.2,"R":17.85},
{"s":1082,"t":0.2,"R":17.9},{"s":1082,"t":0.3,"R":17.95},{"s":1082,"t":0.65,"R":18.1},{"s":1082,"t":0.75,"R":18.15},{"s":1082,"t":0.85,"R":18.2},
{"s":1082,"x":-0.2,"I":17.5},{"s":1082,"x":-0.1,"I":17.2},{"s":1082,"x":0.0,"I":16.75},{"s":1082,"x":0.1,"I":16.9},{"s":1082,"x":0.25,"I":17.1},{"s":1082,"x":0.4,"I":17.3},{"s":1082,"x":0.55,"I":17.4},{"s":1082,"x":0.7,"I":17.45},{"s":1082,"x":0.85,"I":17.55},{"s":1082,"x":0.92,"I":17.15},{"s":1082,"x":1.0,"I":16.75},{"s":1082,"x":1.1,"I":16.9},{"s":1082,"x":1.2,"I":17.1},
{"s":1082,"t":-0.18,"I":17.5},{"s":1082,"t":0.0,"I":16.8},{"s":1082,"t":0.05,"I":16.85},{"s":1082,"t":0.15,"I":17.0},{"s":1082,"t":0.25,"I":17.05},{"s":1082,"t":0.35,"I":17.2},{"s":1082,"t":0.5,"I":17.35},{"s":1082,"t":0.65,"I":17.4},{"s":1082,"t":0.75,"I":17.45},{"s":1082,"t":0.85,"I":17.5},{"s":1082,"t":1.0,"I":16.8},{"s":1082,"t":1.1,"I":16.95},
{"s":1082,"R":17.3},{"s":1082,"R":18.75},{"s":1082,"I":16.4},{"s":1082,"I":17.85},
{"s":1083,"x":-0.2,"V":19.0},{"s":1083,"x":-0.1,"V":18.5},{"s":1083,"x":0.0,"V":17.95},{"s":1083,"x":0.1,"V":18.15},{"s":1083,"x":0.25,"V":18.4},{"s":1083,"x":0.4,"V":18.6},{"s":1083,"x":0.55,"V":18.7},{"s":1083,"x":0.7,"V":18.8},{"s":1083,"x":0.8,"V":18.9},{"s":1083,"x":0.9,"V":18.5},{"s":1083,"x":1.0,"V":17.95},{"s":1083,"x":1.1,"V":18.15},{"s":1083,"x":1.2,"V":18.35},
{"s":1083,"t":-0.18,"V":18.95},{"s":1083,"t":-0.12,"V":18.5},{"s":1083,"t":-0.05,"V":18.2},{"s":1083,"t":0.0,"V":18.0},{"s":1083,"t":0.05,"V":18.1},{"s":1083,"t":0.1,"V":18.3},{"s":1083,"t":0.15,"V":18.35},{"s":1083,"t":0.25,"V":18.45},{"s":1083,"t":0.35,"V":18.5},{"s":1083,"t":0.45,"V":18.6},{"s":1083,"t":0.55,"V":18.55},{"s":1083,"t":0.65,"V":18.75},{"s":1083,"t":0.75,"V":18.85},{"s":1083,"t":0.85,"V":18.8},{"s":1083,"t":0.9,"V":18.4},{"s":1083,"t":1.0,"V":18.05},{"s":1083,"t":1.05,"V":18.15},{"s":1083,"t":1.15,"V":18.3},
{"s":1083,"x":-0.2,"R":17.85},{"s":1083,"x":-0.1,"R":17.5},{"s":1083,"x":0.0,"R":17.2},{"s":1083,"x":0.1,"R":17.35},{"s":1083,"x":0.25,"R":17.6},{"s":1083,"x":0.4,"R":17.75},{"s":1083,"x":0.55,"R":17.85},{"s":1083,"x":0.7,"R":17.85},{"s":1083,"x":0.85,"R":17.8},{"s":1083,"x":0.92,"R":17.5},{"s":1083,"x":1.0,"R":17.2},{"s":1083,"x":1.1,"R":17.3},{"s":1083,"x":1.2,"R":17.5},
{"s":1083,"t":-0.18,"R":17.85},{"s":1083,"t":-0.1,"R":17.55},{"s":1083,"t":0.0,"R":17.2},{"s":1083,"t":0.1,"R":17.3},{"s":1083,"t":0.2,"R":17.45},{"s":1083,"t":0.3,"R":17.6},{"s":1083,"t":0.4,"R":17.7},{"s":1083,"t":0.5,"R":17.8},{"s":1083,"t":0.6,"R":17.85},{"s":1083,"t":0.7,"R":17.85},{"s":1083,"t":0.8,"R":17.85},{"s":1083,"t":1.0,"R":17.2},{"s":1083,"t":1.1,"R":17.3},
{"s":1083,"x":-0.2,"I":17.05},{"s":1083,"x":-0.1,"I":16.85},{"s":1083,"x":0.0,"I":16.55},{"s":1083,"x":0.1,"I":16.6},{"s":1083,"x":0.25,"I":16.75},{"s":1083,"x":0.4,"I":16.85},{"s":1083,"x":0.55,"I":16.95},{"s":1083,"x":0.7,"I":17.0},{"s":1083,"x":0.85,"I":17.0},{"s":1083,"x":0.92,"I":16.75},{"s":1083,"x":1.0,"I":16.55},{"s":1083,"x":1.1,"I":16.6},{"s":1083,"x":1.2,"I":16.75},
{"s":1083,"t":-0.15,"I":17.0},{"s":1083,"t":0.0,"I":16.55},{"s":1083,"t":0.1,"I":16.6},{"s":1083,"t":0.2,"I":16.7},{"s":1083,"t":0.3,"I":16.8},{"s":1083,"t":0.4,"I":16.85},{"s":1083,"t":0.5,"I":16.9},{"s":1083,"t":0.6,"I":16.95},{"s":1083,"t":0.75,"I":17.0},{"s":1083,"t":0.85,"I":17.05},{"s":1083,"t":1.0,"I":16.55},{"s":1083,"t":1.1,"I":16.6},
{"s":1083,"V":17.85},{"s":1083,"V":19.1},{"s":1083,"R":16.95},{"s":1083,"R":18.35},{"s":1083,"I":16.2},{"s":1083,"I":17.65},
{"s":1084,"x":-0.2,"V":18.4},{"s":1084,"x":-0.1,"V":17.9},{"s":1084,"x":0.0,"V":17.3},{"s":1084,"x":0.1,"V":17.55},{"s":1084,"x":0.25,"V":17.85},{"s":1084,"x":0.4,"V":18.05},{"s":1084,"x":0.55,"V":18.15},{"s":1084,"x":0.7,"V":18.2},{"s":1084,"x":0.85,"V":18.3},{"s":1084,"x":0.92,"V":17.8},{"s":1084,"x":1.0,"V":17.3},{"s":1084,"x":1.1,"V":17.55},{"s":1084,"x":1.2,"V":17.75},
{"s":1084,"t":-0.18,"V":18.4},{"s":1084,"t":-0.1,"V":18.45},{"s":1084,"t":-0.05,"V":17.6},{"s":1084,"t":0.0,"V":17.3},{"s":1084,"t":0.05,"V":17.45},{"s":1084,"t":0.15,"V":17.7},{"s":1084,"t":0.25,"V":17.85},{"s":1084,"t":0.35,"V":17.95},{"s":1084,"t":0.45,"V":18.1},{"s":1084,"t":0.55,"V":18.15},{"s":1084,"t":0.65,"V":18.15},{"s":1084,"t":0.8,"V":18.25},{"s":1084,"t":0.9,"V":18.4},{"s":1084,"t":1.0,"V":17.3},{"s":1084,"t":1.1,"V":17.5},{"s":1084,"t":1.18,"V":17.65},
{"s":1084,"x":-0.2,"I":17.0},{"s":1084,"x":-0.1,"I":16.8},{"s":1084,"x":0.0,"I":16.3},{"s":1084,"x":0.1,"I":16.4},{"s":1084,"x":0.25,"I":16.6},{"s":1084,"x":0.4,"I":16.75},{"s":1084,"x":0.55,"I":16.85},{"s":1084,"x":0.7,"I":16.9},{"s":1084,"x":0.85,"I":16.95},{"s":1084,"x":0.92,"I":16.6},{"s":1084,"x":1.0,"I":16.3},{"s":1084,"x":1.1,"I":16.4},{"s":1084,"x":1.2,"I":16.55},
{"s":1084,"t":-0.18,"I":17.0},{"s":1084,"t":-0.05,"I":16.55},{"s":1084,"t":0.0,"I":16.4},{"s":1084,"t":0.1,"I":16.4},{"s":1084,"t":0.2,"I":16.55},{"s":1084,"t":0.3,"I":16.65},{"s":1084,"t":0.45,"I":16.8},{"s":1084,"t":0.55,"I":16.85},{"s":1084,"t":0.65,"I":16.9},{"s":1084,"t":0.75,"I":16.9},{"s":1084,"t":0.95,"I":16.55},{"s":1084,"t":1.05,"I":16.35},{"s":1084,"t":1.15,"I":16.5},
{"s":1084,"V":17.2},{"s":1084,"V":18.55},{"s":1084,"I":15.95},{"s":1084,"I":17.45},{"s":1084,"R":100},
{"s":1085,"x":-0.2,"V":16.4},{"s":1085,"x":-0.1,"V":15.85},{"s":1085,"x":0.0,"V":15.2},{"s":1085,"x":0.1,"V":15.45},{"s":1085,"x":0.25,"V":15.7},{"s":1085,"x":0.4,"V":15.95},{"s":1085,"x":0.55,"V":16.1},{"s":1085,"x":0.7,"V":16.2},{"s":1085,"x":0.82,"V":16.3},{"s":1085,"x":0.9,"V":15.8},{"s":1085,"x":1.0,"V":15.2},{"s":1085,"x":1.1,"V":15.4},{"s":1085,"x":1.2,"V":15.6},
{"s":1085,"t":-0.15,"V":15.35},{"s":1085,"t":0.05,"V":15.3},{"s":1085,"t":0.15,"V":15.6},{"s":1085,"t":0.2,"V":15.65},{"s":1085,"t":0.25,"V":15.55},{"s":1085,"t":0.5,"V":16.1},{"s":1085,"t":0.55,"V":16.15},{"s":1085,"t":0.6,"V":16.2},{"s":1085,"t":0.65,"V":16.25},{"s":1085,"t":0.7,"V":16.25},{"s":1085,"t":0.75,"V":16.3},{"s":1085,"t":0.85,"V":15.35},{"s":1085,"t":1.05,"V":15.3},{"s":1085,"t":1.15,"V":15.5},
{"s":1085,"x":-0.2,"R":14.6},{"s":1085,"x":-0.1,"R":13.9},{"s":1085,"x":0.0,"R":13.3},{"s":1085,"x":0.1,"R":13.55},{"s":1085,"x":0.25,"R":13.85},{"s":1085,"x":0.4,"R":14.1},{"s":1085,"x":0.55,"R":14.35},{"s":1085,"x":0.7,"R":14.55},{"s":1085,"x":0.83,"R":14.6},{"s":1085,"x":0.9,"R":14.0},{"s":1085,"x":1.0,"R":13.3},{"s":1085,"x":1.1,"R":13.55},{"s":1085,"x":1.2,"R":13.85},
{"s":1085,"t":-0.15,"R":13.4},{"s":1085,"t":0.0,"R":13.4},{"s":1085,"t":0.2,"R":13.7},{"s":1085,"t":0.3,"R":13.7},{"s":1085,"t":0.7,"R":14.6},{"s":1085,"t":0.85,"R":13.4},{"s":1085,"t":1.0,"R":13.4},
{"s":1085,"V":15.05},{"s":1085,"V":16.55},{"s":1085,"R":13.2},{"s":1085,"R":14.85},{"s":1085,"I":100}
]},
"transform":[{"fold":["V","R","I"],"as":["b","y"]}],
"vconcat":[
{"transform":[{"filter":{"field":"s","oneOf":[1053,1054,1055,1056,1057]}}],
"facet":{"row":{"field":"b","type":"nominal","sort":["V","R","I"],"header":{"title":null}},"column":{"field":"s","type":"ordinal","sort":[1053,1054,1055,1056,1057],"header":{"title":null}}},
"bounds":"flush","spacing":{"row":0,"column":61},"resolve":{"scale":{"y":"independent"}},
"spec":{"width":152,"height":51,"layer":[
{"mark":{"type":"point","opacity":0},"encoding":{"y":{"field":"y","type":"quantitative","title":null,"scale":{"zero":false,"nice":false,"reverse":true},"axis":{"labelExpr":"datum.value>50?'':datum.label"}}}},
{"transform":[{"filter":"datum.y>50"}],"mark":{"type":"rule","color":"#000","strokeWidth":2.5},"encoding":{"y":{"field":"y","type":"quantitative","title":null}}},
{"transform":[{"filter":"isValid(datum.x)&&datum.y<50"}],"mark":{"type":"line","strokeWidth":3},"encoding":{"x":{"field":"x","type":"quantitative","title":null,"scale":{"domain":[-0.2,1.2],"nice":false},"axis":{"values":[0,0.25,0.5,0.75,1],"format":"~g","labelExpr":"datum.value==0.25||datum.value==0.75?'':datum.label"}},"y":{"field":"y","type":"quantitative","title":null},"color":{"field":"b","type":"nominal","legend":null,"scale":{"domain":["V","R","I"],"range":["#404040","#b3b3b3","#404040"]}}}},
{"transform":[{"filter":"isValid(datum.t)&&datum.y<50"}],"mark":{"type":"point","size":28,"stroke":"#1a1a1a","strokeWidth":1,"opacity":1},"encoding":{"x":{"field":"t","type":"quantitative","title":null},"y":{"field":"y","type":"quantitative","title":null},"shape":{"field":"b","type":"nominal","legend":null,"scale":{"domain":["V","R","I"],"range":["diamond","circle","diamond"]}},"fill":{"field":"b","type":"nominal","legend":null,"scale":{"domain":["V","R","I"],"range":["#333333","#d9d9d9","#333333"]}}}}
]}},
{"transform":[{"filter":{"field":"s","oneOf":[1058,1059,1060,1061,1062]}}],
"facet":{"row":{"field":"b","type":"nominal","sort":["V","R","I"],"header":{"title":null}},"column":{"field":"s","type":"ordinal","sort":[1058,1059,1060,1061,1062],"header":{"title":null}}},
"bounds":"flush","spacing":{"row":0,"column":61},"resolve":{"scale":{"y":"independent"}},
"spec":{"width":152,"height":51,"layer":[
{"mark":{"type":"point","opacity":0},"encoding":{"y":{"field":"y","type":"quantitative","title":null,"scale":{"zero":false,"nice":false,"reverse":true},"axis":{"labelExpr":"datum.value>50?'':datum.label"}}}},
{"transform":[{"filter":"datum.y>50"}],"mark":{"type":"rule","color":"#000","strokeWidth":2.5},"encoding":{"y":{"field":"y","type":"quantitative","title":null}}},
{"transform":[{"filter":"isValid(datum.x)&&datum.y<50"}],"mark":{"type":"line","strokeWidth":3},"encoding":{"x":{"field":"x","type":"quantitative","title":null,"scale":{"domain":[-0.2,1.2],"nice":false},"axis":{"values":[0,0.25,0.5,0.75,1],"format":"~g","labelExpr":"datum.value==0.25||datum.value==0.75?'':datum.label"}},"y":{"field":"y","type":"quantitative","title":null},"color":{"field":"b","type":"nominal","legend":null,"scale":{"domain":["V","R","I"],"range":["#404040","#b3b3b3","#404040"]}}}},
{"transform":[{"filter":"isValid(datum.t)&&datum.y<50"}],"mark":{"type":"point","size":28,"stroke":"#1a1a1a","strokeWidth":1,"opacity":1},"encoding":{"x":{"field":"t","type":"quantitative","title":null},"y":{"field":"y","type":"quantitative","title":null},"shape":{"field":"b","type":"nominal","legend":null,"scale":{"domain":["V","R","I"],"range":["diamond","circle","diamond"]}},"fill":{"field":"b","type":"nominal","legend":null,"scale":{"domain":["V","R","I"],"range":["#333333","#d9d9d9","#333333"]}}}}
]}},
{"transform":[{"filter":{"field":"s","oneOf":[1063,1064,1065,1066,586]}}],
"facet":{"row":{"field":"b","type":"nominal","sort":["V","R","I"],"header":{"title":null}},"column":{"field":"s","type":"ordinal","sort":[1063,1064,1065,1066,586],"header":{"title":null}}},
"bounds":"flush","spacing":{"row":0,"column":61},"resolve":{"scale":{"y":"independent"}},
"spec":{"width":152,"height":51,"layer":[
{"mark":{"type":"point","opacity":0},"encoding":{"y":{"field":"y","type":"quantitative","title":null,"scale":{"zero":false,"nice":false,"reverse":true},"axis":{"labelExpr":"datum.value>50?'':datum.label"}}}},
{"transform":[{"filter":"datum.y>50"}],"mark":{"type":"rule","color":"#000","strokeWidth":2.5},"encoding":{"y":{"field":"y","type":"quantitative","title":null}}},
{"transform":[{"filter":"isValid(datum.x)&&datum.y<50"}],"mark":{"type":"line","strokeWidth":3},"encoding":{"x":{"field":"x","type":"quantitative","title":null,"scale":{"domain":[-0.2,1.2],"nice":false},"axis":{"values":[0,0.25,0.5,0.75,1],"format":"~g","labelExpr":"datum.value==0.25||datum.value==0.75?'':datum.label"}},"y":{"field":"y","type":"quantitative","title":null},"color":{"field":"b","type":"nominal","legend":null,"scale":{"domain":["V","R","I"],"range":["#404040","#b3b3b3","#404040"]}}}},
{"transform":[{"filter":"isValid(datum.t)&&datum.y<50"}],"mark":{"type":"point","size":28,"stroke":"#1a1a1a","strokeWidth":1,"opacity":1},"encoding":{"x":{"field":"t","type":"quantitative","title":null},"y":{"field":"y","type":"quantitative","title":null},"shape":{"field":"b","type":"nominal","legend":null,"scale":{"domain":["V","R","I"],"range":["diamond","circle","diamond"]}},"fill":{"field":"b","type":"nominal","legend":null,"scale":{"domain":["V","R","I"],"range":["#333333","#d9d9d9","#333333"]}}}}
]}},
{"transform":[{"filter":{"field":"s","oneOf":[1067,1068,1069,1070,1071]}}],
"facet":{"row":{"field":"b","type":"nominal","sort":["V","R","I"],"header":{"title":null}},"column":{"field":"s","type":"ordinal","sort":[1067,1068,1069,1070,1071],"header":{"title":null}}},
"bounds":"flush","spacing":{"row":0,"column":61},"resolve":{"scale":{"y":"independent"}},
"spec":{"width":152,"height":51,"layer":[
{"mark":{"type":"point","opacity":0},"encoding":{"y":{"field":"y","type":"quantitative","title":null,"scale":{"zero":false,"nice":false,"reverse":true},"axis":{"labelExpr":"datum.value>50?'':datum.label"}}}},
{"transform":[{"filter":"datum.y>50"}],"mark":{"type":"rule","color":"#000","strokeWidth":2.5},"encoding":{"y":{"field":"y","type":"quantitative","title":null}}},
{"transform":[{"filter":"isValid(datum.x)&&datum.y<50"}],"mark":{"type":"line","strokeWidth":3},"encoding":{"x":{"field":"x","type":"quantitative","title":null,"scale":{"domain":[-0.2,1.2],"nice":false},"axis":{"values":[0,0.25,0.5,0.75,1],"format":"~g","labelExpr":"datum.value==0.25||datum.value==0.75?'':datum.label"}},"y":{"field":"y","type":"quantitative","title":null},"color":{"field":"b","type":"nominal","legend":null,"scale":{"domain":["V","R","I"],"range":["#404040","#b3b3b3","#404040"]}}}},
{"transform":[{"filter":"isValid(datum.t)&&datum.y<50"}],"mark":{"type":"point","size":28,"stroke":"#1a1a1a","strokeWidth":1,"opacity":1},"encoding":{"x":{"field":"t","type":"quantitative","title":null},"y":{"field":"y","type":"quantitative","title":null},"shape":{"field":"b","type":"nominal","legend":null,"scale":{"domain":["V","R","I"],"range":["diamond","circle","diamond"]}},"fill":{"field":"b","type":"nominal","legend":null,"scale":{"domain":["V","R","I"],"range":["#333333","#d9d9d9","#333333"]}}}}
]}},
{"transform":[{"filter":{"field":"s","oneOf":[1072,1073,1074,1075,1076]}}],
"facet":{"row":{"field":"b","type":"nominal","sort":["V","R","I"],"header":{"title":null}},"column":{"field":"s","type":"ordinal","sort":[1072,1073,1074,1075,1076],"header":{"title":null}}},
"bounds":"flush","spacing":{"row":0,"column":61},"resolve":{"scale":{"y":"independent"}},
"spec":{"width":152,"height":51,"layer":[
{"mark":{"type":"point","opacity":0},"encoding":{"y":{"field":"y","type":"quantitative","title":null,"scale":{"zero":false,"nice":false,"reverse":true},"axis":{"labelExpr":"datum.value>50?'':datum.label"}}}},
{"transform":[{"filter":"datum.y>50"}],"mark":{"type":"rule","color":"#000","strokeWidth":2.5},"encoding":{"y":{"field":"y","type":"quantitative","title":null}}},
{"transform":[{"filter":"isValid(datum.x)&&datum.y<50"}],"mark":{"type":"line","strokeWidth":3},"encoding":{"x":{"field":"x","type":"quantitative","title":null,"scale":{"domain":[-0.2,1.2],"nice":false},"axis":{"values":[0,0.25,0.5,0.75,1],"format":"~g","labelExpr":"datum.value==0.25||datum.value==0.75?'':datum.label"}},"y":{"field":"y","type":"quantitative","title":null},"color":{"field":"b","type":"nominal","legend":null,"scale":{"domain":["V","R","I"],"range":["#404040","#b3b3b3","#404040"]}}}},
{"transform":[{"filter":"isValid(datum.t)&&datum.y<50"}],"mark":{"type":"point","size":28,"stroke":"#1a1a1a","strokeWidth":1,"opacity":1},"encoding":{"x":{"field":"t","type":"quantitative","title":null},"y":{"field":"y","type":"quantitative","title":null},"shape":{"field":"b","type":"nominal","legend":null,"scale":{"domain":["V","R","I"],"range":["diamond","circle","diamond"]}},"fill":{"field":"b","type":"nominal","legend":null,"scale":{"domain":["V","R","I"],"range":["#333333","#d9d9d9","#333333"]}}}}
]}},
{"transform":[{"filter":{"field":"s","oneOf":[1077,1078,1079,1080,1081]}}],
"facet":{"row":{"field":"b","type":"nominal","sort":["V","R","I"],"header":{"title":null}},"column":{"field":"s","type":"ordinal","sort":[1077,1078,1079,1080,1081],"header":{"title":null}}},
"bounds":"flush","spacing":{"row":0,"column":61},"resolve":{"scale":{"y":"independent"}},
"spec":{"width":152,"height":51,"layer":[
{"mark":{"type":"point","opacity":0},"encoding":{"y":{"field":"y","type":"quantitative","title":null,"scale":{"zero":false,"nice":false,"reverse":true},"axis":{"labelExpr":"datum.value>50?'':datum.label"}}}},
{"transform":[{"filter":"datum.y>50"}],"mark":{"type":"rule","color":"#000","strokeWidth":2.5},"encoding":{"y":{"field":"y","type":"quantitative","title":null}}},
{"transform":[{"filter":"isValid(datum.x)&&datum.y<50"}],"mark":{"type":"line","strokeWidth":3},"encoding":{"x":{"field":"x","type":"quantitative","title":null,"scale":{"domain":[-0.2,1.2],"nice":false},"axis":{"values":[0,0.25,0.5,0.75,1],"format":"~g","labelExpr":"datum.value==0.25||datum.value==0.75?'':datum.label"}},"y":{"field":"y","type":"quantitative","title":null},"color":{"field":"b","type":"nominal","legend":null,"scale":{"domain":["V","R","I"],"range":["#404040","#b3b3b3","#404040"]}}}},
{"transform":[{"filter":"isValid(datum.t)&&datum.y<50"}],"mark":{"type":"point","size":28,"stroke":"#1a1a1a","strokeWidth":1,"opacity":1},"encoding":{"x":{"field":"t","type":"quantitative","title":null},"y":{"field":"y","type":"quantitative","title":null},"shape":{"field":"b","type":"nominal","legend":null,"scale":{"domain":["V","R","I"],"range":["diamond","circle","diamond"]}},"fill":{"field":"b","type":"nominal","legend":null,"scale":{"domain":["V","R","I"],"range":["#333333","#d9d9d9","#333333"]}}}}
]}},
{"transform":[{"filter":{"field":"s","oneOf":[589,1082,1083,1084,1085]}}],
"facet":{"row":{"field":"b","type":"nominal","sort":["V","R","I"],"header":{"title":null}},"column":{"field":"s","type":"ordinal","sort":[589,1082,1083,1084,1085],"header":{"title":null}}},
"bounds":"flush","spacing":{"row":0,"column":61},"resolve":{"scale":{"y":"independent"}},
"spec":{"width":152,"height":51,"layer":[
{"mark":{"type":"point","opacity":0},"encoding":{"y":{"field":"y","type":"quantitative","title":null,"scale":{"zero":false,"nice":false,"reverse":true},"axis":{"labelExpr":"datum.value>50?'':datum.label"}}}},
{"transform":[{"filter":"datum.y>50"}],"mark":{"type":"rule","color":"#000","strokeWidth":2.5},"encoding":{"y":{"field":"y","type":"quantitative","title":null}}},
{"transform":[{"filter":"isValid(datum.x)&&datum.y<50"}],"mark":{"type":"line","strokeWidth":3},"encoding":{"x":{"field":"x","type":"quantitative","title":"φ","scale":{"domain":[-0.2,1.2],"nice":false},"axis":{"values":[0,0.25,0.5,0.75,1],"format":"~g","labelExpr":"datum.value==0.25||datum.value==0.75?'':datum.label"}},"y":{"field":"y","type":"quantitative","title":null},"color":{"field":"b","type":"nominal","legend":null,"scale":{"domain":["V","R","I"],"range":["#404040","#b3b3b3","#404040"]}}}},
{"transform":[{"filter":"isValid(datum.t)&&datum.y<50"}],"mark":{"type":"point","size":28,"stroke":"#1a1a1a","strokeWidth":1,"opacity":1},"encoding":{"x":{"field":"t","type":"quantitative","title":"φ"},"y":{"field":"y","type":"quantitative","title":null},"shape":{"field":"b","type":"nominal","legend":null,"scale":{"domain":["V","R","I"],"range":["diamond","circle","diamond"]}},"fill":{"field":"b","type":"nominal","legend":null,"scale":{"domain":["V","R","I"],"range":["#333333","#d9d9d9","#333333"]}}}}
]}}
]
}
